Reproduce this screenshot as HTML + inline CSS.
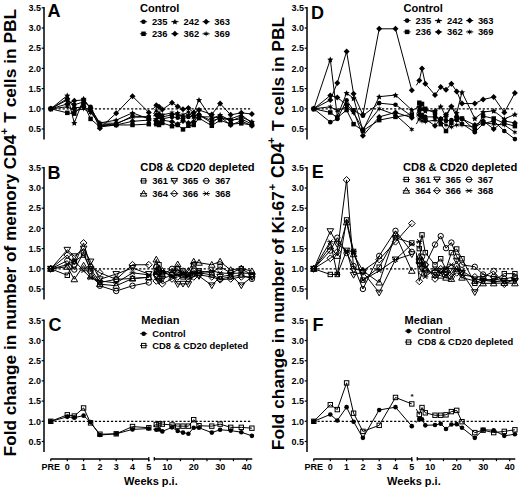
<!DOCTYPE html>
<html><head><meta charset="utf-8"><style>
html,body{margin:0;padding:0;background:#fff;}
svg{display:block;}
text{font-family:"Liberation Sans",sans-serif;font-weight:bold;}
</style></head><body>
<svg width="520" height="489" viewBox="0 0 520 489" shape-rendering="geometricPrecision">
<rect width="520" height="489" fill="#fff"/>
<line x1="44.0" y1="7.10" x2="44.0" y2="139.40" stroke="#000" stroke-width="1.5"/>
<line x1="41.70" y1="129.00" x2="44.0" y2="129.00" stroke="#000" stroke-width="1.2"/>
<text x="41.00" y="132.20" text-anchor="end" font-size="9" >0.5</text>
<line x1="41.70" y1="108.80" x2="44.0" y2="108.80" stroke="#000" stroke-width="1.2"/>
<text x="41.00" y="112.00" text-anchor="end" font-size="9" >1.0</text>
<line x1="41.70" y1="88.60" x2="44.0" y2="88.60" stroke="#000" stroke-width="1.2"/>
<text x="41.00" y="91.80" text-anchor="end" font-size="9" >1.5</text>
<line x1="41.70" y1="68.40" x2="44.0" y2="68.40" stroke="#000" stroke-width="1.2"/>
<text x="41.00" y="71.60" text-anchor="end" font-size="9" >2.0</text>
<line x1="41.70" y1="48.20" x2="44.0" y2="48.20" stroke="#000" stroke-width="1.2"/>
<text x="41.00" y="51.40" text-anchor="end" font-size="9" >2.5</text>
<line x1="41.70" y1="28.00" x2="44.0" y2="28.00" stroke="#000" stroke-width="1.2"/>
<text x="41.00" y="31.20" text-anchor="end" font-size="9" >3.0</text>
<line x1="41.70" y1="7.80" x2="44.0" y2="7.80" stroke="#000" stroke-width="1.2"/>
<text x="41.00" y="11.00" text-anchor="end" font-size="9" >3.5</text>
<line x1="50.50" y1="108.80" x2="250.60" y2="108.80" stroke="#000" stroke-width="1.3" stroke-dasharray="2.2,1.83"/>
<path d="M50.80 108.80L67.30 99.91L74.29 104.76L83.60 101.93L90.59 106.78L99.90 124.96L116.20 124.15L132.50 116.07L148.80 116.88" fill="none" stroke="#000" stroke-width="1.0"/>
<path d="M153.30 115.87L156.30 114.86L159.00 116.88L162.30 118.90L172.00 116.88L177.70 117.69L183.00 118.90L188.40 116.88L193.70 116.07L199.00 114.86L211.80 120.92L220.10 118.09L230.70 120.11L241.30 118.90L251.90 124.15" fill="none" stroke="#000" stroke-width="1.0"/>
<circle cx="50.80" cy="108.80" r="2.30" fill="#000"/>
<circle cx="67.30" cy="99.91" r="2.30" fill="#000"/>
<circle cx="74.29" cy="104.76" r="2.30" fill="#000"/>
<circle cx="83.60" cy="101.93" r="2.30" fill="#000"/>
<circle cx="90.59" cy="106.78" r="2.30" fill="#000"/>
<circle cx="99.90" cy="124.96" r="2.30" fill="#000"/>
<circle cx="116.20" cy="124.15" r="2.30" fill="#000"/>
<circle cx="132.50" cy="116.07" r="2.30" fill="#000"/>
<circle cx="148.80" cy="116.88" r="2.30" fill="#000"/>
<circle cx="156.30" cy="114.86" r="2.30" fill="#000"/>
<circle cx="159.00" cy="116.88" r="2.30" fill="#000"/>
<circle cx="162.30" cy="118.90" r="2.30" fill="#000"/>
<circle cx="172.00" cy="116.88" r="2.30" fill="#000"/>
<circle cx="177.70" cy="117.69" r="2.30" fill="#000"/>
<circle cx="183.00" cy="118.90" r="2.30" fill="#000"/>
<circle cx="188.40" cy="116.88" r="2.30" fill="#000"/>
<circle cx="193.70" cy="116.07" r="2.30" fill="#000"/>
<circle cx="199.00" cy="114.86" r="2.30" fill="#000"/>
<circle cx="211.80" cy="120.92" r="2.30" fill="#000"/>
<circle cx="220.10" cy="118.09" r="2.30" fill="#000"/>
<circle cx="230.70" cy="120.11" r="2.30" fill="#000"/>
<circle cx="241.30" cy="118.90" r="2.30" fill="#000"/>
<circle cx="251.90" cy="124.15" r="2.30" fill="#000"/>
<path d="M50.80 108.80L67.30 112.84L74.29 113.65L83.60 103.95L90.59 118.90L99.90 126.98L116.20 124.96L132.50 124.96L148.80 124.15" fill="none" stroke="#000" stroke-width="1.0"/>
<path d="M153.30 124.15L156.30 124.15L159.00 124.96L162.30 122.94L172.00 126.17L177.70 124.96L183.00 129.40L188.40 125.77L193.70 124.96L199.00 118.09L211.80 125.77L220.10 120.11L230.70 124.15L241.30 123.34L251.90 124.96" fill="none" stroke="#000" stroke-width="1.0"/>
<rect x="48.55" y="106.55" width="4.50" height="4.50" fill="#000"/>
<rect x="65.05" y="110.59" width="4.50" height="4.50" fill="#000"/>
<rect x="72.04" y="111.40" width="4.50" height="4.50" fill="#000"/>
<rect x="81.35" y="101.70" width="4.50" height="4.50" fill="#000"/>
<rect x="88.34" y="116.65" width="4.50" height="4.50" fill="#000"/>
<rect x="97.65" y="124.73" width="4.50" height="4.50" fill="#000"/>
<rect x="113.95" y="122.71" width="4.50" height="4.50" fill="#000"/>
<rect x="130.25" y="122.71" width="4.50" height="4.50" fill="#000"/>
<rect x="146.55" y="121.90" width="4.50" height="4.50" fill="#000"/>
<rect x="154.05" y="121.90" width="4.50" height="4.50" fill="#000"/>
<rect x="156.75" y="122.71" width="4.50" height="4.50" fill="#000"/>
<rect x="160.05" y="120.69" width="4.50" height="4.50" fill="#000"/>
<rect x="169.75" y="123.92" width="4.50" height="4.50" fill="#000"/>
<rect x="175.45" y="122.71" width="4.50" height="4.50" fill="#000"/>
<rect x="180.75" y="127.15" width="4.50" height="4.50" fill="#000"/>
<rect x="186.15" y="123.52" width="4.50" height="4.50" fill="#000"/>
<rect x="191.45" y="122.71" width="4.50" height="4.50" fill="#000"/>
<rect x="196.75" y="115.84" width="4.50" height="4.50" fill="#000"/>
<rect x="209.55" y="123.52" width="4.50" height="4.50" fill="#000"/>
<rect x="217.85" y="117.86" width="4.50" height="4.50" fill="#000"/>
<rect x="228.45" y="121.90" width="4.50" height="4.50" fill="#000"/>
<rect x="239.05" y="121.09" width="4.50" height="4.50" fill="#000"/>
<rect x="249.65" y="122.71" width="4.50" height="4.50" fill="#000"/>
<path d="M50.80 108.80L67.30 95.47L74.29 122.94L83.60 98.70L90.59 108.80L99.90 122.94L116.20 120.11L132.50 112.84L148.80 118.90" fill="none" stroke="#000" stroke-width="1.0"/>
<path d="M153.30 118.90L156.30 118.90L159.00 114.86L162.30 116.88L172.00 114.86L177.70 112.84L183.00 116.88L188.40 114.86L193.70 112.84L199.00 99.91L211.80 118.90L220.10 114.86L230.70 120.92L241.30 116.88L251.90 121.73" fill="none" stroke="#000" stroke-width="1.0"/>
<polygon points="50.80,105.90 51.71,107.85 53.84,108.11 52.27,109.58 52.68,111.69 50.80,110.65 48.92,111.69 49.33,109.58 47.76,108.11 49.89,107.85" fill="#000"/>
<polygon points="67.30,92.57 68.21,94.51 70.34,94.78 68.77,96.25 69.18,98.36 67.30,97.32 65.42,98.36 65.83,96.25 64.26,94.78 66.39,94.51" fill="#000"/>
<polygon points="74.29,120.04 75.20,121.99 77.33,122.25 75.76,123.72 76.17,125.83 74.29,124.79 72.40,125.83 72.81,123.72 71.24,122.25 73.37,121.99" fill="#000"/>
<polygon points="83.60,95.80 84.51,97.75 86.64,98.01 85.07,99.48 85.48,101.59 83.60,100.55 81.72,101.59 82.13,99.48 80.56,98.01 82.69,97.75" fill="#000"/>
<polygon points="90.59,105.90 91.50,107.85 93.63,108.11 92.06,109.58 92.47,111.69 90.59,110.65 88.70,111.69 89.11,109.58 87.54,108.11 89.67,107.85" fill="#000"/>
<polygon points="99.90,120.04 100.81,121.99 102.94,122.25 101.37,123.72 101.78,125.83 99.90,124.79 98.02,125.83 98.43,123.72 96.86,122.25 98.99,121.99" fill="#000"/>
<polygon points="116.20,117.21 117.11,119.16 119.24,119.42 117.67,120.89 118.08,123.00 116.20,121.96 114.32,123.00 114.73,120.89 113.16,119.42 115.29,119.16" fill="#000"/>
<polygon points="132.50,109.94 133.41,111.89 135.54,112.15 133.97,113.62 134.38,115.73 132.50,114.69 130.62,115.73 131.03,113.62 129.46,112.15 131.59,111.89" fill="#000"/>
<polygon points="148.80,116.00 149.71,117.95 151.84,118.21 150.27,119.68 150.68,121.79 148.80,120.75 146.92,121.79 147.33,119.68 145.76,118.21 147.89,117.95" fill="#000"/>
<polygon points="156.30,116.00 157.21,117.95 159.34,118.21 157.77,119.68 158.18,121.79 156.30,120.75 154.42,121.79 154.83,119.68 153.26,118.21 155.39,117.95" fill="#000"/>
<polygon points="159.00,111.96 159.91,113.91 162.04,114.17 160.47,115.64 160.88,117.75 159.00,116.71 157.12,117.75 157.53,115.64 155.96,114.17 158.09,113.91" fill="#000"/>
<polygon points="162.30,113.98 163.21,115.93 165.34,116.19 163.77,117.66 164.18,119.77 162.30,118.73 160.42,119.77 160.83,117.66 159.26,116.19 161.39,115.93" fill="#000"/>
<polygon points="172.00,111.96 172.91,113.91 175.04,114.17 173.47,115.64 173.88,117.75 172.00,116.71 170.12,117.75 170.53,115.64 168.96,114.17 171.09,113.91" fill="#000"/>
<polygon points="177.70,109.94 178.61,111.89 180.74,112.15 179.17,113.62 179.58,115.73 177.70,114.69 175.82,115.73 176.23,113.62 174.66,112.15 176.79,111.89" fill="#000"/>
<polygon points="183.00,113.98 183.91,115.93 186.04,116.19 184.47,117.66 184.88,119.77 183.00,118.73 181.12,119.77 181.53,117.66 179.96,116.19 182.09,115.93" fill="#000"/>
<polygon points="188.40,111.96 189.31,113.91 191.44,114.17 189.87,115.64 190.28,117.75 188.40,116.71 186.52,117.75 186.93,115.64 185.36,114.17 187.49,113.91" fill="#000"/>
<polygon points="193.70,109.94 194.61,111.89 196.74,112.15 195.17,113.62 195.58,115.73 193.70,114.69 191.82,115.73 192.23,113.62 190.66,112.15 192.79,111.89" fill="#000"/>
<polygon points="199.00,97.01 199.91,98.96 202.04,99.22 200.47,100.69 200.88,102.80 199.00,101.76 197.12,102.80 197.53,100.69 195.96,99.22 198.09,98.96" fill="#000"/>
<polygon points="211.80,116.00 212.71,117.95 214.84,118.21 213.27,119.68 213.68,121.79 211.80,120.75 209.92,121.79 210.33,119.68 208.76,118.21 210.89,117.95" fill="#000"/>
<polygon points="220.10,111.96 221.01,113.91 223.14,114.17 221.57,115.64 221.98,117.75 220.10,116.71 218.22,117.75 218.63,115.64 217.06,114.17 219.19,113.91" fill="#000"/>
<polygon points="230.70,118.02 231.61,119.97 233.74,120.23 232.17,121.70 232.58,123.81 230.70,122.77 228.82,123.81 229.23,121.70 227.66,120.23 229.79,119.97" fill="#000"/>
<polygon points="241.30,113.98 242.21,115.93 244.34,116.19 242.77,117.66 243.18,119.77 241.30,118.73 239.42,119.77 239.83,117.66 238.26,116.19 240.39,115.93" fill="#000"/>
<polygon points="251.90,118.83 252.81,120.77 254.94,121.04 253.37,122.51 253.78,124.62 251.90,123.58 250.02,124.62 250.43,122.51 248.86,121.04 250.99,120.77" fill="#000"/>
<path d="M50.80 108.80L67.30 103.95L74.29 100.72L83.60 99.91L90.59 107.99L99.90 128.19L116.20 113.24L132.50 96.28L148.80 112.44" fill="none" stroke="#000" stroke-width="1.0"/>
<path d="M153.30 108.80L156.30 105.16L159.00 106.78L162.30 109.61L172.00 102.74L177.70 106.38L183.00 109.20L188.40 107.99L193.70 112.84L199.00 110.01L211.80 114.46L220.10 103.55L230.70 114.86L241.30 112.84L251.90 114.05" fill="none" stroke="#000" stroke-width="1.0"/>
<path d="M50.80 105.80L53.80 108.80L50.80 111.80L47.80 108.80Z" fill="#000"/>
<path d="M67.30 100.95L70.30 103.95L67.30 106.95L64.30 103.95Z" fill="#000"/>
<path d="M74.29 97.72L77.29 100.72L74.29 103.72L71.29 100.72Z" fill="#000"/>
<path d="M83.60 96.91L86.60 99.91L83.60 102.91L80.60 99.91Z" fill="#000"/>
<path d="M90.59 104.99L93.59 107.99L90.59 110.99L87.59 107.99Z" fill="#000"/>
<path d="M99.90 125.19L102.90 128.19L99.90 131.19L96.90 128.19Z" fill="#000"/>
<path d="M116.20 110.24L119.20 113.24L116.20 116.24L113.20 113.24Z" fill="#000"/>
<path d="M132.50 93.28L135.50 96.28L132.50 99.28L129.50 96.28Z" fill="#000"/>
<path d="M148.80 109.44L151.80 112.44L148.80 115.44L145.80 112.44Z" fill="#000"/>
<path d="M156.30 102.16L159.30 105.16L156.30 108.16L153.30 105.16Z" fill="#000"/>
<path d="M159.00 103.78L162.00 106.78L159.00 109.78L156.00 106.78Z" fill="#000"/>
<path d="M162.30 106.61L165.30 109.61L162.30 112.61L159.30 109.61Z" fill="#000"/>
<path d="M172.00 99.74L175.00 102.74L172.00 105.74L169.00 102.74Z" fill="#000"/>
<path d="M177.70 103.38L180.70 106.38L177.70 109.38L174.70 106.38Z" fill="#000"/>
<path d="M183.00 106.20L186.00 109.20L183.00 112.20L180.00 109.20Z" fill="#000"/>
<path d="M188.40 104.99L191.40 107.99L188.40 110.99L185.40 107.99Z" fill="#000"/>
<path d="M193.70 109.84L196.70 112.84L193.70 115.84L190.70 112.84Z" fill="#000"/>
<path d="M199.00 107.01L202.00 110.01L199.00 113.01L196.00 110.01Z" fill="#000"/>
<path d="M211.80 111.46L214.80 114.46L211.80 117.46L208.80 114.46Z" fill="#000"/>
<path d="M220.10 100.55L223.10 103.55L220.10 106.55L217.10 103.55Z" fill="#000"/>
<path d="M230.70 111.86L233.70 114.86L230.70 117.86L227.70 114.86Z" fill="#000"/>
<path d="M241.30 109.84L244.30 112.84L241.30 115.84L238.30 112.84Z" fill="#000"/>
<path d="M251.90 111.05L254.90 114.05L251.90 117.05L248.90 114.05Z" fill="#000"/>
<path d="M50.80 108.80L67.30 98.70L74.29 107.99L83.60 106.78L90.59 110.82L99.90 125.77L116.20 124.96L132.50 121.32L148.80 120.11" fill="none" stroke="#000" stroke-width="1.0"/>
<path d="M153.30 120.52L156.30 120.92L159.00 122.94L162.30 120.11L172.00 121.73L177.70 124.15L183.00 120.92L188.40 122.94L193.70 121.73L199.00 114.86L211.80 122.94L220.10 116.88L230.70 124.96L241.30 120.92L251.90 125.77" fill="none" stroke="#000" stroke-width="1.0"/>
<path d="M50.80 105.80L53.80 108.80L50.80 111.80L47.80 108.80Z" fill="#000"/>
<path d="M67.30 95.70L70.30 98.70L67.30 101.70L64.30 98.70Z" fill="#000"/>
<path d="M74.29 104.99L77.29 107.99L74.29 110.99L71.29 107.99Z" fill="#000"/>
<path d="M83.60 103.78L86.60 106.78L83.60 109.78L80.60 106.78Z" fill="#000"/>
<path d="M90.59 107.82L93.59 110.82L90.59 113.82L87.59 110.82Z" fill="#000"/>
<path d="M99.90 122.77L102.90 125.77L99.90 128.77L96.90 125.77Z" fill="#000"/>
<path d="M116.20 121.96L119.20 124.96L116.20 127.96L113.20 124.96Z" fill="#000"/>
<path d="M132.50 118.32L135.50 121.32L132.50 124.32L129.50 121.32Z" fill="#000"/>
<path d="M148.80 117.11L151.80 120.11L148.80 123.11L145.80 120.11Z" fill="#000"/>
<path d="M156.30 117.92L159.30 120.92L156.30 123.92L153.30 120.92Z" fill="#000"/>
<path d="M159.00 119.94L162.00 122.94L159.00 125.94L156.00 122.94Z" fill="#000"/>
<path d="M162.30 117.11L165.30 120.11L162.30 123.11L159.30 120.11Z" fill="#000"/>
<path d="M172.00 118.73L175.00 121.73L172.00 124.73L169.00 121.73Z" fill="#000"/>
<path d="M177.70 121.15L180.70 124.15L177.70 127.15L174.70 124.15Z" fill="#000"/>
<path d="M183.00 117.92L186.00 120.92L183.00 123.92L180.00 120.92Z" fill="#000"/>
<path d="M188.40 119.94L191.40 122.94L188.40 125.94L185.40 122.94Z" fill="#000"/>
<path d="M193.70 118.73L196.70 121.73L193.70 124.73L190.70 121.73Z" fill="#000"/>
<path d="M199.00 111.86L202.00 114.86L199.00 117.86L196.00 114.86Z" fill="#000"/>
<path d="M211.80 119.94L214.80 122.94L211.80 125.94L208.80 122.94Z" fill="#000"/>
<path d="M220.10 113.88L223.10 116.88L220.10 119.88L217.10 116.88Z" fill="#000"/>
<path d="M230.70 121.96L233.70 124.96L230.70 127.96L227.70 124.96Z" fill="#000"/>
<path d="M241.30 117.92L244.30 120.92L241.30 123.92L238.30 120.92Z" fill="#000"/>
<path d="M251.90 122.77L254.90 125.77L251.90 128.77L248.90 125.77Z" fill="#000"/>
<path d="M50.80 108.80L67.30 106.78L74.29 110.82L83.60 108.80L90.59 112.84L99.90 122.94L116.20 123.34L132.50 117.28L148.80 116.88" fill="none" stroke="#000" stroke-width="1.0"/>
<path d="M153.30 113.85L156.30 110.82L159.00 112.84L162.30 114.86L172.00 112.84L177.70 116.07L183.00 114.86L188.40 112.03L193.70 117.69L199.00 116.88L211.80 116.88L220.10 117.69L230.70 118.90L241.30 114.86L251.90 122.94" fill="none" stroke="#000" stroke-width="1.0"/>
<polygon points="50.80,105.80 51.40,107.76 53.40,107.30 52.00,108.80 53.40,110.30 51.40,109.84 50.80,111.80 50.20,109.84 48.20,110.30 49.60,108.80 48.20,107.30 50.20,107.76" fill="#000"/>
<polygon points="67.30,103.78 67.90,105.74 69.90,105.28 68.50,106.78 69.90,108.28 67.90,107.82 67.30,109.78 66.70,107.82 64.70,108.28 66.10,106.78 64.70,105.28 66.70,105.74" fill="#000"/>
<polygon points="74.29,107.82 74.89,109.78 76.88,109.32 75.49,110.82 76.88,112.32 74.89,111.86 74.29,113.82 73.69,111.86 71.69,112.32 73.09,110.82 71.69,109.32 73.69,109.78" fill="#000"/>
<polygon points="83.60,105.80 84.20,107.76 86.20,107.30 84.80,108.80 86.20,110.30 84.20,109.84 83.60,111.80 83.00,109.84 81.00,110.30 82.40,108.80 81.00,107.30 83.00,107.76" fill="#000"/>
<polygon points="90.59,109.84 91.19,111.80 93.18,111.34 91.79,112.84 93.18,114.34 91.19,113.88 90.59,115.84 89.99,113.88 87.99,114.34 89.39,112.84 87.99,111.34 89.99,111.80" fill="#000"/>
<polygon points="99.90,119.94 100.50,121.90 102.50,121.44 101.10,122.94 102.50,124.44 100.50,123.98 99.90,125.94 99.30,123.98 97.30,124.44 98.70,122.94 97.30,121.44 99.30,121.90" fill="#000"/>
<polygon points="116.20,120.34 116.80,122.30 118.80,121.84 117.40,123.34 118.80,124.84 116.80,124.38 116.20,126.34 115.60,124.38 113.60,124.84 115.00,123.34 113.60,121.84 115.60,122.30" fill="#000"/>
<polygon points="132.50,114.28 133.10,116.24 135.10,115.78 133.70,117.28 135.10,118.78 133.10,118.32 132.50,120.28 131.90,118.32 129.90,118.78 131.30,117.28 129.90,115.78 131.90,116.24" fill="#000"/>
<polygon points="148.80,113.88 149.40,115.84 151.40,115.38 150.00,116.88 151.40,118.38 149.40,117.92 148.80,119.88 148.20,117.92 146.20,118.38 147.60,116.88 146.20,115.38 148.20,115.84" fill="#000"/>
<polygon points="156.30,107.82 156.90,109.78 158.90,109.32 157.50,110.82 158.90,112.32 156.90,111.86 156.30,113.82 155.70,111.86 153.70,112.32 155.10,110.82 153.70,109.32 155.70,109.78" fill="#000"/>
<polygon points="159.00,109.84 159.60,111.80 161.60,111.34 160.20,112.84 161.60,114.34 159.60,113.88 159.00,115.84 158.40,113.88 156.40,114.34 157.80,112.84 156.40,111.34 158.40,111.80" fill="#000"/>
<polygon points="162.30,111.86 162.90,113.82 164.90,113.36 163.50,114.86 164.90,116.36 162.90,115.90 162.30,117.86 161.70,115.90 159.70,116.36 161.10,114.86 159.70,113.36 161.70,113.82" fill="#000"/>
<polygon points="172.00,109.84 172.60,111.80 174.60,111.34 173.20,112.84 174.60,114.34 172.60,113.88 172.00,115.84 171.40,113.88 169.40,114.34 170.80,112.84 169.40,111.34 171.40,111.80" fill="#000"/>
<polygon points="177.70,113.07 178.30,115.03 180.30,114.57 178.90,116.07 180.30,117.57 178.30,117.11 177.70,119.07 177.10,117.11 175.10,117.57 176.50,116.07 175.10,114.57 177.10,115.03" fill="#000"/>
<polygon points="183.00,111.86 183.60,113.82 185.60,113.36 184.20,114.86 185.60,116.36 183.60,115.90 183.00,117.86 182.40,115.90 180.40,116.36 181.80,114.86 180.40,113.36 182.40,113.82" fill="#000"/>
<polygon points="188.40,109.03 189.00,110.99 191.00,110.53 189.60,112.03 191.00,113.53 189.00,113.07 188.40,115.03 187.80,113.07 185.80,113.53 187.20,112.03 185.80,110.53 187.80,110.99" fill="#000"/>
<polygon points="193.70,114.69 194.30,116.65 196.30,116.19 194.90,117.69 196.30,119.19 194.30,118.73 193.70,120.69 193.10,118.73 191.10,119.19 192.50,117.69 191.10,116.19 193.10,116.65" fill="#000"/>
<polygon points="199.00,113.88 199.60,115.84 201.60,115.38 200.20,116.88 201.60,118.38 199.60,117.92 199.00,119.88 198.40,117.92 196.40,118.38 197.80,116.88 196.40,115.38 198.40,115.84" fill="#000"/>
<polygon points="211.80,113.88 212.40,115.84 214.40,115.38 213.00,116.88 214.40,118.38 212.40,117.92 211.80,119.88 211.20,117.92 209.20,118.38 210.60,116.88 209.20,115.38 211.20,115.84" fill="#000"/>
<polygon points="220.10,114.69 220.70,116.65 222.70,116.19 221.30,117.69 222.70,119.19 220.70,118.73 220.10,120.69 219.50,118.73 217.50,119.19 218.90,117.69 217.50,116.19 219.50,116.65" fill="#000"/>
<polygon points="230.70,115.90 231.30,117.86 233.30,117.40 231.90,118.90 233.30,120.40 231.30,119.94 230.70,121.90 230.10,119.94 228.10,120.40 229.50,118.90 228.10,117.40 230.10,117.86" fill="#000"/>
<polygon points="241.30,111.86 241.90,113.82 243.90,113.36 242.50,114.86 243.90,116.36 241.90,115.90 241.30,117.86 240.70,115.90 238.70,116.36 240.10,114.86 238.70,113.36 240.70,113.82" fill="#000"/>
<polygon points="251.90,119.94 252.50,121.90 254.50,121.44 253.10,122.94 254.50,124.44 252.50,123.98 251.90,125.94 251.30,123.98 249.30,124.44 250.70,122.94 249.30,121.44 251.30,121.90" fill="#000"/>
<line x1="44.0" y1="167.10" x2="44.0" y2="299.40" stroke="#000" stroke-width="1.5"/>
<line x1="41.70" y1="289.00" x2="44.0" y2="289.00" stroke="#000" stroke-width="1.2"/>
<text x="41.00" y="292.20" text-anchor="end" font-size="9" >0.5</text>
<line x1="41.70" y1="268.80" x2="44.0" y2="268.80" stroke="#000" stroke-width="1.2"/>
<text x="41.00" y="272.00" text-anchor="end" font-size="9" >1.0</text>
<line x1="41.70" y1="248.60" x2="44.0" y2="248.60" stroke="#000" stroke-width="1.2"/>
<text x="41.00" y="251.80" text-anchor="end" font-size="9" >1.5</text>
<line x1="41.70" y1="228.40" x2="44.0" y2="228.40" stroke="#000" stroke-width="1.2"/>
<text x="41.00" y="231.60" text-anchor="end" font-size="9" >2.0</text>
<line x1="41.70" y1="208.20" x2="44.0" y2="208.20" stroke="#000" stroke-width="1.2"/>
<text x="41.00" y="211.40" text-anchor="end" font-size="9" >2.5</text>
<line x1="41.70" y1="188.00" x2="44.0" y2="188.00" stroke="#000" stroke-width="1.2"/>
<text x="41.00" y="191.20" text-anchor="end" font-size="9" >3.0</text>
<line x1="41.70" y1="167.80" x2="44.0" y2="167.80" stroke="#000" stroke-width="1.2"/>
<text x="41.00" y="171.00" text-anchor="end" font-size="9" >3.5</text>
<line x1="50.50" y1="268.80" x2="250.60" y2="268.80" stroke="#000" stroke-width="1.3" stroke-dasharray="2.2,1.83"/>
<path d="M50.80 268.80L67.30 275.26L74.29 261.53L83.60 255.06L90.59 268.80L99.90 282.54L116.20 279.30L132.50 278.50L148.80 277.28" fill="none" stroke="#000" stroke-width="1.0"/>
<path d="M153.30 274.05L156.30 270.82L159.00 264.76L162.30 272.84L172.00 274.86L177.70 268.80L183.00 276.88L188.40 274.86L193.70 264.76L199.00 270.82L211.80 272.84L220.10 266.78L230.70 272.84L241.30 268.80L251.90 274.86" fill="none" stroke="#000" stroke-width="1.0"/>
<rect x="48.60" y="266.60" width="4.40" height="4.40" fill="none" stroke="#000" stroke-width="1.0"/>
<rect x="65.10" y="273.06" width="4.40" height="4.40" fill="none" stroke="#000" stroke-width="1.0"/>
<rect x="72.09" y="259.33" width="4.40" height="4.40" fill="none" stroke="#000" stroke-width="1.0"/>
<rect x="81.40" y="252.86" width="4.40" height="4.40" fill="none" stroke="#000" stroke-width="1.0"/>
<rect x="88.39" y="266.60" width="4.40" height="4.40" fill="none" stroke="#000" stroke-width="1.0"/>
<rect x="97.70" y="280.34" width="4.40" height="4.40" fill="none" stroke="#000" stroke-width="1.0"/>
<rect x="114.00" y="277.10" width="4.40" height="4.40" fill="none" stroke="#000" stroke-width="1.0"/>
<rect x="130.30" y="276.30" width="4.40" height="4.40" fill="none" stroke="#000" stroke-width="1.0"/>
<rect x="146.60" y="275.08" width="4.40" height="4.40" fill="none" stroke="#000" stroke-width="1.0"/>
<rect x="154.10" y="268.62" width="4.40" height="4.40" fill="none" stroke="#000" stroke-width="1.0"/>
<rect x="156.80" y="262.56" width="4.40" height="4.40" fill="none" stroke="#000" stroke-width="1.0"/>
<rect x="160.10" y="270.64" width="4.40" height="4.40" fill="none" stroke="#000" stroke-width="1.0"/>
<rect x="169.80" y="272.66" width="4.40" height="4.40" fill="none" stroke="#000" stroke-width="1.0"/>
<rect x="175.50" y="266.60" width="4.40" height="4.40" fill="none" stroke="#000" stroke-width="1.0"/>
<rect x="180.80" y="274.68" width="4.40" height="4.40" fill="none" stroke="#000" stroke-width="1.0"/>
<rect x="186.20" y="272.66" width="4.40" height="4.40" fill="none" stroke="#000" stroke-width="1.0"/>
<rect x="191.50" y="262.56" width="4.40" height="4.40" fill="none" stroke="#000" stroke-width="1.0"/>
<rect x="196.80" y="268.62" width="4.40" height="4.40" fill="none" stroke="#000" stroke-width="1.0"/>
<rect x="209.60" y="270.64" width="4.40" height="4.40" fill="none" stroke="#000" stroke-width="1.0"/>
<rect x="217.90" y="264.58" width="4.40" height="4.40" fill="none" stroke="#000" stroke-width="1.0"/>
<rect x="228.50" y="270.64" width="4.40" height="4.40" fill="none" stroke="#000" stroke-width="1.0"/>
<rect x="239.10" y="266.60" width="4.40" height="4.40" fill="none" stroke="#000" stroke-width="1.0"/>
<rect x="249.70" y="272.66" width="4.40" height="4.40" fill="none" stroke="#000" stroke-width="1.0"/>
<path d="M50.80 268.80L67.30 249.81L74.29 256.28L83.60 248.60L90.59 261.53L99.90 279.30L116.20 274.05L132.50 267.99L148.80 274.05" fill="none" stroke="#000" stroke-width="1.0"/>
<path d="M153.30 275.47L156.30 276.88L159.00 280.92L162.30 278.90L172.00 274.86L177.70 284.15L183.00 283.75L188.40 284.15L193.70 273.65L199.00 276.07L211.80 285.36L220.10 276.88L230.70 274.86L241.30 285.36L251.90 276.88" fill="none" stroke="#000" stroke-width="1.0"/>
<path d="M50.80 272.10L54.10 266.32L47.50 266.32Z" fill="none" stroke="#000" stroke-width="1.0"/>
<path d="M67.30 253.11L70.60 247.34L64.00 247.34Z" fill="none" stroke="#000" stroke-width="1.0"/>
<path d="M74.29 259.58L77.59 253.80L70.99 253.80Z" fill="none" stroke="#000" stroke-width="1.0"/>
<path d="M83.60 251.90L86.90 246.13L80.30 246.13Z" fill="none" stroke="#000" stroke-width="1.0"/>
<path d="M90.59 264.83L93.89 259.05L87.29 259.05Z" fill="none" stroke="#000" stroke-width="1.0"/>
<path d="M99.90 282.60L103.20 276.83L96.60 276.83Z" fill="none" stroke="#000" stroke-width="1.0"/>
<path d="M116.20 277.35L119.50 271.58L112.90 271.58Z" fill="none" stroke="#000" stroke-width="1.0"/>
<path d="M132.50 271.29L135.80 265.52L129.20 265.52Z" fill="none" stroke="#000" stroke-width="1.0"/>
<path d="M148.80 277.35L152.10 271.58L145.50 271.58Z" fill="none" stroke="#000" stroke-width="1.0"/>
<path d="M156.30 280.18L159.60 274.40L153.00 274.40Z" fill="none" stroke="#000" stroke-width="1.0"/>
<path d="M159.00 284.22L162.30 278.44L155.70 278.44Z" fill="none" stroke="#000" stroke-width="1.0"/>
<path d="M162.30 282.20L165.60 276.43L159.00 276.43Z" fill="none" stroke="#000" stroke-width="1.0"/>
<path d="M172.00 278.16L175.30 272.38L168.70 272.38Z" fill="none" stroke="#000" stroke-width="1.0"/>
<path d="M177.70 287.45L181.00 281.68L174.40 281.68Z" fill="none" stroke="#000" stroke-width="1.0"/>
<path d="M183.00 287.05L186.30 281.27L179.70 281.27Z" fill="none" stroke="#000" stroke-width="1.0"/>
<path d="M188.40 287.45L191.70 281.68L185.10 281.68Z" fill="none" stroke="#000" stroke-width="1.0"/>
<path d="M193.70 276.95L197.00 271.17L190.40 271.17Z" fill="none" stroke="#000" stroke-width="1.0"/>
<path d="M199.00 279.37L202.30 273.60L195.70 273.60Z" fill="none" stroke="#000" stroke-width="1.0"/>
<path d="M211.80 288.66L215.10 282.89L208.50 282.89Z" fill="none" stroke="#000" stroke-width="1.0"/>
<path d="M220.10 280.18L223.40 274.40L216.80 274.40Z" fill="none" stroke="#000" stroke-width="1.0"/>
<path d="M230.70 278.16L234.00 272.38L227.40 272.38Z" fill="none" stroke="#000" stroke-width="1.0"/>
<path d="M241.30 288.66L244.60 282.89L238.00 282.89Z" fill="none" stroke="#000" stroke-width="1.0"/>
<path d="M251.90 280.18L255.20 274.40L248.60 274.40Z" fill="none" stroke="#000" stroke-width="1.0"/>
<path d="M50.80 268.80L67.30 260.72L74.29 269.61L83.60 252.64L90.59 270.82L99.90 285.77L116.20 291.02L132.50 285.77L148.80 282.54" fill="none" stroke="#000" stroke-width="1.0"/>
<path d="M153.30 274.66L156.30 266.78L159.00 272.84L162.30 274.86L172.00 268.80L177.70 272.84L183.00 270.82L188.40 276.88L193.70 270.82L199.00 272.84L211.80 274.86L220.10 278.90L230.70 276.88L241.30 274.86L251.90 278.90" fill="none" stroke="#000" stroke-width="1.0"/>
<circle cx="50.80" cy="268.80" r="2.70" fill="none" stroke="#000" stroke-width="1.0"/>
<circle cx="67.30" cy="260.72" r="2.70" fill="none" stroke="#000" stroke-width="1.0"/>
<circle cx="74.29" cy="269.61" r="2.70" fill="none" stroke="#000" stroke-width="1.0"/>
<circle cx="83.60" cy="252.64" r="2.70" fill="none" stroke="#000" stroke-width="1.0"/>
<circle cx="90.59" cy="270.82" r="2.70" fill="none" stroke="#000" stroke-width="1.0"/>
<circle cx="99.90" cy="285.77" r="2.70" fill="none" stroke="#000" stroke-width="1.0"/>
<circle cx="116.20" cy="291.02" r="2.70" fill="none" stroke="#000" stroke-width="1.0"/>
<circle cx="132.50" cy="285.77" r="2.70" fill="none" stroke="#000" stroke-width="1.0"/>
<circle cx="148.80" cy="282.54" r="2.70" fill="none" stroke="#000" stroke-width="1.0"/>
<circle cx="156.30" cy="266.78" r="2.70" fill="none" stroke="#000" stroke-width="1.0"/>
<circle cx="159.00" cy="272.84" r="2.70" fill="none" stroke="#000" stroke-width="1.0"/>
<circle cx="162.30" cy="274.86" r="2.70" fill="none" stroke="#000" stroke-width="1.0"/>
<circle cx="172.00" cy="268.80" r="2.70" fill="none" stroke="#000" stroke-width="1.0"/>
<circle cx="177.70" cy="272.84" r="2.70" fill="none" stroke="#000" stroke-width="1.0"/>
<circle cx="183.00" cy="270.82" r="2.70" fill="none" stroke="#000" stroke-width="1.0"/>
<circle cx="188.40" cy="276.88" r="2.70" fill="none" stroke="#000" stroke-width="1.0"/>
<circle cx="193.70" cy="270.82" r="2.70" fill="none" stroke="#000" stroke-width="1.0"/>
<circle cx="199.00" cy="272.84" r="2.70" fill="none" stroke="#000" stroke-width="1.0"/>
<circle cx="211.80" cy="274.86" r="2.70" fill="none" stroke="#000" stroke-width="1.0"/>
<circle cx="220.10" cy="278.90" r="2.70" fill="none" stroke="#000" stroke-width="1.0"/>
<circle cx="230.70" cy="276.88" r="2.70" fill="none" stroke="#000" stroke-width="1.0"/>
<circle cx="241.30" cy="274.86" r="2.70" fill="none" stroke="#000" stroke-width="1.0"/>
<circle cx="251.90" cy="278.90" r="2.70" fill="none" stroke="#000" stroke-width="1.0"/>
<path d="M50.80 268.80L67.30 266.78L74.29 279.30L83.60 265.57L90.59 276.48L99.90 284.15L116.20 285.77L132.50 278.50L148.80 277.28" fill="none" stroke="#000" stroke-width="1.0"/>
<path d="M153.30 268.40L156.30 259.51L159.00 268.80L162.30 270.82L172.00 272.84L177.70 264.36L183.00 274.86L188.40 270.82L193.70 261.53L199.00 262.74L211.80 264.76L220.10 261.53L230.70 270.01L241.30 268.40L251.90 271.22" fill="none" stroke="#000" stroke-width="1.0"/>
<path d="M50.80 265.50L54.10 271.28L47.50 271.28Z" fill="none" stroke="#000" stroke-width="1.0"/>
<path d="M67.30 263.48L70.60 269.26L64.00 269.26Z" fill="none" stroke="#000" stroke-width="1.0"/>
<path d="M74.29 276.00L77.59 281.78L70.99 281.78Z" fill="none" stroke="#000" stroke-width="1.0"/>
<path d="M83.60 262.27L86.90 268.04L80.30 268.04Z" fill="none" stroke="#000" stroke-width="1.0"/>
<path d="M90.59 273.18L93.89 278.95L87.29 278.95Z" fill="none" stroke="#000" stroke-width="1.0"/>
<path d="M99.90 280.85L103.20 286.63L96.60 286.63Z" fill="none" stroke="#000" stroke-width="1.0"/>
<path d="M116.20 282.47L119.50 288.24L112.90 288.24Z" fill="none" stroke="#000" stroke-width="1.0"/>
<path d="M132.50 275.20L135.80 280.97L129.20 280.97Z" fill="none" stroke="#000" stroke-width="1.0"/>
<path d="M148.80 273.98L152.10 279.76L145.50 279.76Z" fill="none" stroke="#000" stroke-width="1.0"/>
<path d="M156.30 256.21L159.60 261.98L153.00 261.98Z" fill="none" stroke="#000" stroke-width="1.0"/>
<path d="M159.00 265.50L162.30 271.28L155.70 271.28Z" fill="none" stroke="#000" stroke-width="1.0"/>
<path d="M162.30 267.52L165.60 273.30L159.00 273.30Z" fill="none" stroke="#000" stroke-width="1.0"/>
<path d="M172.00 269.54L175.30 275.32L168.70 275.32Z" fill="none" stroke="#000" stroke-width="1.0"/>
<path d="M177.70 261.06L181.00 266.83L174.40 266.83Z" fill="none" stroke="#000" stroke-width="1.0"/>
<path d="M183.00 271.56L186.30 277.34L179.70 277.34Z" fill="none" stroke="#000" stroke-width="1.0"/>
<path d="M188.40 267.52L191.70 273.30L185.10 273.30Z" fill="none" stroke="#000" stroke-width="1.0"/>
<path d="M193.70 258.23L197.00 264.00L190.40 264.00Z" fill="none" stroke="#000" stroke-width="1.0"/>
<path d="M199.00 259.44L202.30 265.22L195.70 265.22Z" fill="none" stroke="#000" stroke-width="1.0"/>
<path d="M211.80 261.46L215.10 267.24L208.50 267.24Z" fill="none" stroke="#000" stroke-width="1.0"/>
<path d="M220.10 258.23L223.40 264.00L216.80 264.00Z" fill="none" stroke="#000" stroke-width="1.0"/>
<path d="M230.70 266.71L234.00 272.49L227.40 272.49Z" fill="none" stroke="#000" stroke-width="1.0"/>
<path d="M241.30 265.10L244.60 270.87L238.00 270.87Z" fill="none" stroke="#000" stroke-width="1.0"/>
<path d="M251.90 267.92L255.20 273.70L248.60 273.70Z" fill="none" stroke="#000" stroke-width="1.0"/>
<path d="M50.80 268.80L67.30 255.06L74.29 264.76L83.60 242.94L90.59 266.78L99.90 272.84L116.20 279.30L132.50 264.76L148.80 264.76" fill="none" stroke="#000" stroke-width="1.0"/>
<path d="M153.30 272.84L156.30 280.92L159.00 278.90L162.30 283.75L172.00 278.90L177.70 276.88L183.00 272.84L188.40 278.90L193.70 276.88L199.00 274.86L211.80 276.88L220.10 279.71L230.70 278.90L241.30 276.88L251.90 276.88" fill="none" stroke="#000" stroke-width="1.0"/>
<path d="M50.80 265.40L54.20 268.80L50.80 272.20L47.40 268.80Z" fill="none" stroke="#000" stroke-width="1.0"/>
<path d="M67.30 251.66L70.70 255.06L67.30 258.46L63.90 255.06Z" fill="none" stroke="#000" stroke-width="1.0"/>
<path d="M74.29 261.36L77.69 264.76L74.29 268.16L70.89 264.76Z" fill="none" stroke="#000" stroke-width="1.0"/>
<path d="M83.60 239.54L87.00 242.94L83.60 246.34L80.20 242.94Z" fill="none" stroke="#000" stroke-width="1.0"/>
<path d="M90.59 263.38L93.99 266.78L90.59 270.18L87.19 266.78Z" fill="none" stroke="#000" stroke-width="1.0"/>
<path d="M99.90 269.44L103.30 272.84L99.90 276.24L96.50 272.84Z" fill="none" stroke="#000" stroke-width="1.0"/>
<path d="M116.20 275.90L119.60 279.30L116.20 282.70L112.80 279.30Z" fill="none" stroke="#000" stroke-width="1.0"/>
<path d="M132.50 261.36L135.90 264.76L132.50 268.16L129.10 264.76Z" fill="none" stroke="#000" stroke-width="1.0"/>
<path d="M148.80 261.36L152.20 264.76L148.80 268.16L145.40 264.76Z" fill="none" stroke="#000" stroke-width="1.0"/>
<path d="M156.30 277.52L159.70 280.92L156.30 284.32L152.90 280.92Z" fill="none" stroke="#000" stroke-width="1.0"/>
<path d="M159.00 275.50L162.40 278.90L159.00 282.30L155.60 278.90Z" fill="none" stroke="#000" stroke-width="1.0"/>
<path d="M162.30 280.35L165.70 283.75L162.30 287.15L158.90 283.75Z" fill="none" stroke="#000" stroke-width="1.0"/>
<path d="M172.00 275.50L175.40 278.90L172.00 282.30L168.60 278.90Z" fill="none" stroke="#000" stroke-width="1.0"/>
<path d="M177.70 273.48L181.10 276.88L177.70 280.28L174.30 276.88Z" fill="none" stroke="#000" stroke-width="1.0"/>
<path d="M183.00 269.44L186.40 272.84L183.00 276.24L179.60 272.84Z" fill="none" stroke="#000" stroke-width="1.0"/>
<path d="M188.40 275.50L191.80 278.90L188.40 282.30L185.00 278.90Z" fill="none" stroke="#000" stroke-width="1.0"/>
<path d="M193.70 273.48L197.10 276.88L193.70 280.28L190.30 276.88Z" fill="none" stroke="#000" stroke-width="1.0"/>
<path d="M199.00 271.46L202.40 274.86L199.00 278.26L195.60 274.86Z" fill="none" stroke="#000" stroke-width="1.0"/>
<path d="M211.80 273.48L215.20 276.88L211.80 280.28L208.40 276.88Z" fill="none" stroke="#000" stroke-width="1.0"/>
<path d="M220.10 276.31L223.50 279.71L220.10 283.11L216.70 279.71Z" fill="none" stroke="#000" stroke-width="1.0"/>
<path d="M230.70 275.50L234.10 278.90L230.70 282.30L227.30 278.90Z" fill="none" stroke="#000" stroke-width="1.0"/>
<path d="M241.30 273.48L244.70 276.88L241.30 280.28L237.90 276.88Z" fill="none" stroke="#000" stroke-width="1.0"/>
<path d="M251.90 273.48L255.30 276.88L251.90 280.28L248.50 276.88Z" fill="none" stroke="#000" stroke-width="1.0"/>
<path d="M50.80 268.80L67.30 264.76L74.29 260.72L83.60 270.82L90.59 277.69L99.90 280.92L116.20 282.94L132.50 272.84L148.80 274.86" fill="none" stroke="#000" stroke-width="1.0"/>
<path d="M153.30 273.85L156.30 272.84L159.00 274.86L162.30 270.82L172.00 276.88L177.70 274.86L183.00 273.65L188.40 276.07L193.70 272.84L199.00 272.84L211.80 270.82L220.10 272.84L230.70 273.65L241.30 272.84L251.90 273.65" fill="none" stroke="#000" stroke-width="1.0"/>
<path d="M47.80 268.80H53.80M48.60 266.60L53.00 271.00M53.00 266.60L48.60 271.00" fill="none" stroke="#000" stroke-width="1.0"/>
<path d="M64.30 264.76H70.30M65.10 262.56L69.50 266.96M69.50 262.56L65.10 266.96" fill="none" stroke="#000" stroke-width="1.0"/>
<path d="M71.29 260.72H77.29M72.09 258.52L76.49 262.92M76.49 258.52L72.09 262.92" fill="none" stroke="#000" stroke-width="1.0"/>
<path d="M80.60 270.82H86.60M81.40 268.62L85.80 273.02M85.80 268.62L81.40 273.02" fill="none" stroke="#000" stroke-width="1.0"/>
<path d="M87.59 277.69H93.59M88.39 275.49L92.79 279.89M92.79 275.49L88.39 279.89" fill="none" stroke="#000" stroke-width="1.0"/>
<path d="M96.90 280.92H102.90M97.70 278.72L102.10 283.12M102.10 278.72L97.70 283.12" fill="none" stroke="#000" stroke-width="1.0"/>
<path d="M113.20 282.94H119.20M114.00 280.74L118.40 285.14M118.40 280.74L114.00 285.14" fill="none" stroke="#000" stroke-width="1.0"/>
<path d="M129.50 272.84H135.50M130.30 270.64L134.70 275.04M134.70 270.64L130.30 275.04" fill="none" stroke="#000" stroke-width="1.0"/>
<path d="M145.80 274.86H151.80M146.60 272.66L151.00 277.06M151.00 272.66L146.60 277.06" fill="none" stroke="#000" stroke-width="1.0"/>
<path d="M153.30 272.84H159.30M154.10 270.64L158.50 275.04M158.50 270.64L154.10 275.04" fill="none" stroke="#000" stroke-width="1.0"/>
<path d="M156.00 274.86H162.00M156.80 272.66L161.20 277.06M161.20 272.66L156.80 277.06" fill="none" stroke="#000" stroke-width="1.0"/>
<path d="M159.30 270.82H165.30M160.10 268.62L164.50 273.02M164.50 268.62L160.10 273.02" fill="none" stroke="#000" stroke-width="1.0"/>
<path d="M169.00 276.88H175.00M169.80 274.68L174.20 279.08M174.20 274.68L169.80 279.08" fill="none" stroke="#000" stroke-width="1.0"/>
<path d="M174.70 274.86H180.70M175.50 272.66L179.90 277.06M179.90 272.66L175.50 277.06" fill="none" stroke="#000" stroke-width="1.0"/>
<path d="M180.00 273.65H186.00M180.80 271.45L185.20 275.85M185.20 271.45L180.80 275.85" fill="none" stroke="#000" stroke-width="1.0"/>
<path d="M185.40 276.07H191.40M186.20 273.87L190.60 278.27M190.60 273.87L186.20 278.27" fill="none" stroke="#000" stroke-width="1.0"/>
<path d="M190.70 272.84H196.70M191.50 270.64L195.90 275.04M195.90 270.64L191.50 275.04" fill="none" stroke="#000" stroke-width="1.0"/>
<path d="M196.00 272.84H202.00M196.80 270.64L201.20 275.04M201.20 270.64L196.80 275.04" fill="none" stroke="#000" stroke-width="1.0"/>
<path d="M208.80 270.82H214.80M209.60 268.62L214.00 273.02M214.00 268.62L209.60 273.02" fill="none" stroke="#000" stroke-width="1.0"/>
<path d="M217.10 272.84H223.10M217.90 270.64L222.30 275.04M222.30 270.64L217.90 275.04" fill="none" stroke="#000" stroke-width="1.0"/>
<path d="M227.70 273.65H233.70M228.50 271.45L232.90 275.85M232.90 271.45L228.50 275.85" fill="none" stroke="#000" stroke-width="1.0"/>
<path d="M238.30 272.84H244.30M239.10 270.64L243.50 275.04M243.50 270.64L239.10 275.04" fill="none" stroke="#000" stroke-width="1.0"/>
<path d="M248.90 273.65H254.90M249.70 271.45L254.10 275.85M254.10 271.45L249.70 275.85" fill="none" stroke="#000" stroke-width="1.0"/>
<line x1="44.0" y1="319.60" x2="44.0" y2="451.90" stroke="#000" stroke-width="1.5"/>
<line x1="41.70" y1="441.50" x2="44.0" y2="441.50" stroke="#000" stroke-width="1.2"/>
<text x="41.00" y="444.70" text-anchor="end" font-size="9" >0.5</text>
<line x1="41.70" y1="421.30" x2="44.0" y2="421.30" stroke="#000" stroke-width="1.2"/>
<text x="41.00" y="424.50" text-anchor="end" font-size="9" >1.0</text>
<line x1="41.70" y1="401.10" x2="44.0" y2="401.10" stroke="#000" stroke-width="1.2"/>
<text x="41.00" y="404.30" text-anchor="end" font-size="9" >1.5</text>
<line x1="41.70" y1="380.90" x2="44.0" y2="380.90" stroke="#000" stroke-width="1.2"/>
<text x="41.00" y="384.10" text-anchor="end" font-size="9" >2.0</text>
<line x1="41.70" y1="360.70" x2="44.0" y2="360.70" stroke="#000" stroke-width="1.2"/>
<text x="41.00" y="363.90" text-anchor="end" font-size="9" >2.5</text>
<line x1="41.70" y1="340.50" x2="44.0" y2="340.50" stroke="#000" stroke-width="1.2"/>
<text x="41.00" y="343.70" text-anchor="end" font-size="9" >3.0</text>
<line x1="41.70" y1="320.30" x2="44.0" y2="320.30" stroke="#000" stroke-width="1.2"/>
<text x="41.00" y="323.50" text-anchor="end" font-size="9" >3.5</text>
<line x1="50.50" y1="421.30" x2="250.60" y2="421.30" stroke="#000" stroke-width="1.3" stroke-dasharray="2.2,1.83"/>
<path d="M50.80 421.30L67.30 414.84L74.29 416.05L83.60 407.97L90.59 422.92L99.90 434.23L116.20 433.82L132.50 426.55L148.80 427.76" fill="none" stroke="#000" stroke-width="1.0"/>
<path d="M153.30 426.15L156.30 424.53L159.00 423.72L162.30 424.13L172.00 424.94L177.70 426.15L183.00 426.15L188.40 426.15L193.70 419.68L199.00 425.74L211.80 426.15L220.10 424.13L230.70 427.36L241.30 427.36L251.90 428.17" fill="none" stroke="#000" stroke-width="1.0"/>
<rect x="48.60" y="419.10" width="4.40" height="4.40" fill="none" stroke="#000" stroke-width="1.0"/>
<rect x="65.10" y="412.64" width="4.40" height="4.40" fill="none" stroke="#000" stroke-width="1.0"/>
<rect x="72.09" y="413.85" width="4.40" height="4.40" fill="none" stroke="#000" stroke-width="1.0"/>
<rect x="81.40" y="405.77" width="4.40" height="4.40" fill="none" stroke="#000" stroke-width="1.0"/>
<rect x="88.39" y="420.72" width="4.40" height="4.40" fill="none" stroke="#000" stroke-width="1.0"/>
<rect x="97.70" y="432.03" width="4.40" height="4.40" fill="none" stroke="#000" stroke-width="1.0"/>
<rect x="114.00" y="431.62" width="4.40" height="4.40" fill="none" stroke="#000" stroke-width="1.0"/>
<rect x="130.30" y="424.35" width="4.40" height="4.40" fill="none" stroke="#000" stroke-width="1.0"/>
<rect x="146.60" y="425.56" width="4.40" height="4.40" fill="none" stroke="#000" stroke-width="1.0"/>
<rect x="154.10" y="422.33" width="4.40" height="4.40" fill="none" stroke="#000" stroke-width="1.0"/>
<rect x="156.80" y="421.52" width="4.40" height="4.40" fill="none" stroke="#000" stroke-width="1.0"/>
<rect x="160.10" y="421.93" width="4.40" height="4.40" fill="none" stroke="#000" stroke-width="1.0"/>
<rect x="169.80" y="422.74" width="4.40" height="4.40" fill="none" stroke="#000" stroke-width="1.0"/>
<rect x="175.50" y="423.95" width="4.40" height="4.40" fill="none" stroke="#000" stroke-width="1.0"/>
<rect x="180.80" y="423.95" width="4.40" height="4.40" fill="none" stroke="#000" stroke-width="1.0"/>
<rect x="186.20" y="423.95" width="4.40" height="4.40" fill="none" stroke="#000" stroke-width="1.0"/>
<rect x="191.50" y="417.48" width="4.40" height="4.40" fill="none" stroke="#000" stroke-width="1.0"/>
<rect x="196.80" y="423.54" width="4.40" height="4.40" fill="none" stroke="#000" stroke-width="1.0"/>
<rect x="209.60" y="423.95" width="4.40" height="4.40" fill="none" stroke="#000" stroke-width="1.0"/>
<rect x="217.90" y="421.93" width="4.40" height="4.40" fill="none" stroke="#000" stroke-width="1.0"/>
<rect x="228.50" y="425.16" width="4.40" height="4.40" fill="none" stroke="#000" stroke-width="1.0"/>
<rect x="239.10" y="425.16" width="4.40" height="4.40" fill="none" stroke="#000" stroke-width="1.0"/>
<rect x="249.70" y="425.97" width="4.40" height="4.40" fill="none" stroke="#000" stroke-width="1.0"/>
<path d="M50.80 421.30L67.30 416.86L74.29 417.66L83.60 415.64L90.59 422.11L99.90 435.04L116.20 433.82L132.50 429.38L148.80 428.57" fill="none" stroke="#000" stroke-width="1.0"/>
<path d="M153.30 429.18L156.30 429.78L159.00 429.38L162.30 431.40L172.00 427.36L177.70 431.00L183.00 432.61L188.40 433.82L193.70 427.76L199.00 427.76L211.80 432.61L220.10 429.78L230.70 430.59L241.30 432.21L251.90 435.84" fill="none" stroke="#000" stroke-width="1.0"/>
<circle cx="50.80" cy="421.30" r="2.30" fill="#000"/>
<circle cx="67.30" cy="416.86" r="2.30" fill="#000"/>
<circle cx="74.29" cy="417.66" r="2.30" fill="#000"/>
<circle cx="83.60" cy="415.64" r="2.30" fill="#000"/>
<circle cx="90.59" cy="422.11" r="2.30" fill="#000"/>
<circle cx="99.90" cy="435.04" r="2.30" fill="#000"/>
<circle cx="116.20" cy="433.82" r="2.30" fill="#000"/>
<circle cx="132.50" cy="429.38" r="2.30" fill="#000"/>
<circle cx="148.80" cy="428.57" r="2.30" fill="#000"/>
<circle cx="156.30" cy="429.78" r="2.30" fill="#000"/>
<circle cx="159.00" cy="429.38" r="2.30" fill="#000"/>
<circle cx="162.30" cy="431.40" r="2.30" fill="#000"/>
<circle cx="172.00" cy="427.36" r="2.30" fill="#000"/>
<circle cx="177.70" cy="431.00" r="2.30" fill="#000"/>
<circle cx="183.00" cy="432.61" r="2.30" fill="#000"/>
<circle cx="188.40" cy="433.82" r="2.30" fill="#000"/>
<circle cx="193.70" cy="427.76" r="2.30" fill="#000"/>
<circle cx="199.00" cy="427.76" r="2.30" fill="#000"/>
<circle cx="211.80" cy="432.61" r="2.30" fill="#000"/>
<circle cx="220.10" cy="429.78" r="2.30" fill="#000"/>
<circle cx="230.70" cy="430.59" r="2.30" fill="#000"/>
<circle cx="241.30" cy="432.21" r="2.30" fill="#000"/>
<circle cx="251.90" cy="435.84" r="2.30" fill="#000"/>
<line x1="307.0" y1="7.10" x2="307.0" y2="139.40" stroke="#000" stroke-width="1.5"/>
<line x1="304.70" y1="129.00" x2="307.0" y2="129.00" stroke="#000" stroke-width="1.2"/>
<text x="304.00" y="132.20" text-anchor="end" font-size="9" >0.5</text>
<line x1="304.70" y1="108.80" x2="307.0" y2="108.80" stroke="#000" stroke-width="1.2"/>
<text x="304.00" y="112.00" text-anchor="end" font-size="9" >1.0</text>
<line x1="304.70" y1="88.60" x2="307.0" y2="88.60" stroke="#000" stroke-width="1.2"/>
<text x="304.00" y="91.80" text-anchor="end" font-size="9" >1.5</text>
<line x1="304.70" y1="68.40" x2="307.0" y2="68.40" stroke="#000" stroke-width="1.2"/>
<text x="304.00" y="71.60" text-anchor="end" font-size="9" >2.0</text>
<line x1="304.70" y1="48.20" x2="307.0" y2="48.20" stroke="#000" stroke-width="1.2"/>
<text x="304.00" y="51.40" text-anchor="end" font-size="9" >2.5</text>
<line x1="304.70" y1="28.00" x2="307.0" y2="28.00" stroke="#000" stroke-width="1.2"/>
<text x="304.00" y="31.20" text-anchor="end" font-size="9" >3.0</text>
<line x1="304.70" y1="7.80" x2="307.0" y2="7.80" stroke="#000" stroke-width="1.2"/>
<text x="304.00" y="11.00" text-anchor="end" font-size="9" >3.5</text>
<line x1="313.50" y1="108.80" x2="513.60" y2="108.80" stroke="#000" stroke-width="1.3" stroke-dasharray="2.2,1.83"/>
<path d="M313.80 108.80L330.30 99.91L337.29 82.94L346.60 51.43L353.59 93.85L362.90 114.86L379.20 28.81L395.50 28.81L411.80 90.22" fill="none" stroke="#000" stroke-width="1.0"/>
<path d="M416.30 85.37L419.30 80.52L422.00 68.40L425.30 83.75L435.00 95.06L440.70 86.98L446.00 89.81L451.40 83.75L456.70 91.43L462.00 103.55L474.80 103.55L483.10 99.51L493.70 97.08L504.30 112.44L514.90 93.04" fill="none" stroke="#000" stroke-width="1.0"/>
<path d="M313.80 105.80L316.80 108.80L313.80 111.80L310.80 108.80Z" fill="#000"/>
<path d="M330.30 96.91L333.30 99.91L330.30 102.91L327.30 99.91Z" fill="#000"/>
<path d="M337.29 79.94L340.29 82.94L337.29 85.94L334.29 82.94Z" fill="#000"/>
<path d="M346.60 48.43L349.60 51.43L346.60 54.43L343.60 51.43Z" fill="#000"/>
<path d="M353.59 90.85L356.59 93.85L353.59 96.85L350.59 93.85Z" fill="#000"/>
<path d="M362.90 111.86L365.90 114.86L362.90 117.86L359.90 114.86Z" fill="#000"/>
<path d="M379.20 25.81L382.20 28.81L379.20 31.81L376.20 28.81Z" fill="#000"/>
<path d="M395.50 25.81L398.50 28.81L395.50 31.81L392.50 28.81Z" fill="#000"/>
<path d="M411.80 87.22L414.80 90.22L411.80 93.22L408.80 90.22Z" fill="#000"/>
<path d="M419.30 77.52L422.30 80.52L419.30 83.52L416.30 80.52Z" fill="#000"/>
<path d="M422.00 65.40L425.00 68.40L422.00 71.40L419.00 68.40Z" fill="#000"/>
<path d="M425.30 80.75L428.30 83.75L425.30 86.75L422.30 83.75Z" fill="#000"/>
<path d="M435.00 92.06L438.00 95.06L435.00 98.06L432.00 95.06Z" fill="#000"/>
<path d="M440.70 83.98L443.70 86.98L440.70 89.98L437.70 86.98Z" fill="#000"/>
<path d="M446.00 86.81L449.00 89.81L446.00 92.81L443.00 89.81Z" fill="#000"/>
<path d="M451.40 80.75L454.40 83.75L451.40 86.75L448.40 83.75Z" fill="#000"/>
<path d="M456.70 88.43L459.70 91.43L456.70 94.43L453.70 91.43Z" fill="#000"/>
<path d="M462.00 100.55L465.00 103.55L462.00 106.55L459.00 103.55Z" fill="#000"/>
<path d="M474.80 100.55L477.80 103.55L474.80 106.55L471.80 103.55Z" fill="#000"/>
<path d="M483.10 96.51L486.10 99.51L483.10 102.51L480.10 99.51Z" fill="#000"/>
<path d="M493.70 94.08L496.70 97.08L493.70 100.08L490.70 97.08Z" fill="#000"/>
<path d="M504.30 109.44L507.30 112.44L504.30 115.44L501.30 112.44Z" fill="#000"/>
<path d="M514.90 90.04L517.90 93.04L514.90 96.04L511.90 93.04Z" fill="#000"/>
<path d="M313.80 108.80L330.30 59.51L337.29 116.48L346.60 93.04L353.59 98.30L362.90 130.62L379.20 96.68L395.50 95.06L411.80 110.01" fill="none" stroke="#000" stroke-width="1.0"/>
<path d="M416.30 108.40L419.30 106.78L422.00 108.80L425.30 110.82L435.00 110.82L440.70 106.38L446.00 116.88L451.40 106.38L456.70 112.84L462.00 92.24L474.80 118.50L483.10 112.03L493.70 110.82L504.30 118.90L514.90 114.46" fill="none" stroke="#000" stroke-width="1.0"/>
<polygon points="313.80,105.90 314.71,107.85 316.84,108.11 315.27,109.58 315.68,111.69 313.80,110.65 311.92,111.69 312.33,109.58 310.76,108.11 312.89,107.85" fill="#000"/>
<polygon points="330.30,56.61 331.21,58.56 333.34,58.82 331.77,60.29 332.18,62.40 330.30,61.36 328.42,62.40 328.83,60.29 327.26,58.82 329.39,58.56" fill="#000"/>
<polygon points="337.29,113.58 338.20,115.52 340.33,115.79 338.76,117.25 339.17,119.36 337.29,118.33 335.40,119.36 335.81,117.25 334.24,115.79 336.37,115.52" fill="#000"/>
<polygon points="346.60,90.14 347.51,92.09 349.64,92.36 348.07,93.82 348.48,95.93 346.60,94.89 344.72,95.93 345.13,93.82 343.56,92.36 345.69,92.09" fill="#000"/>
<polygon points="353.59,95.40 354.50,97.34 356.63,97.61 355.06,99.07 355.47,101.18 353.59,100.15 351.70,101.18 352.11,99.07 350.54,97.61 352.67,97.34" fill="#000"/>
<polygon points="362.90,127.72 363.81,129.66 365.94,129.93 364.37,131.39 364.78,133.50 362.90,132.47 361.02,133.50 361.43,131.39 359.86,129.93 361.99,129.66" fill="#000"/>
<polygon points="379.20,93.78 380.11,95.73 382.24,95.99 380.67,97.46 381.08,99.57 379.20,98.53 377.32,99.57 377.73,97.46 376.16,95.99 378.29,95.73" fill="#000"/>
<polygon points="395.50,92.16 396.41,94.11 398.54,94.38 396.97,95.84 397.38,97.95 395.50,96.91 393.62,97.95 394.03,95.84 392.46,94.38 394.59,94.11" fill="#000"/>
<polygon points="411.80,107.11 412.71,109.06 414.84,109.32 413.27,110.79 413.68,112.90 411.80,111.86 409.92,112.90 410.33,110.79 408.76,109.32 410.89,109.06" fill="#000"/>
<polygon points="419.30,103.88 420.21,105.83 422.34,106.09 420.77,107.56 421.18,109.67 419.30,108.63 417.42,109.67 417.83,107.56 416.26,106.09 418.39,105.83" fill="#000"/>
<polygon points="422.00,105.90 422.91,107.85 425.04,108.11 423.47,109.58 423.88,111.69 422.00,110.65 420.12,111.69 420.53,109.58 418.96,108.11 421.09,107.85" fill="#000"/>
<polygon points="425.30,107.92 426.21,109.87 428.34,110.13 426.77,111.60 427.18,113.71 425.30,112.67 423.42,113.71 423.83,111.60 422.26,110.13 424.39,109.87" fill="#000"/>
<polygon points="435.00,107.92 435.91,109.87 438.04,110.13 436.47,111.60 436.88,113.71 435.00,112.67 433.12,113.71 433.53,111.60 431.96,110.13 434.09,109.87" fill="#000"/>
<polygon points="440.70,103.48 441.61,105.42 443.74,105.69 442.17,107.15 442.58,109.26 440.70,108.23 438.82,109.26 439.23,107.15 437.66,105.69 439.79,105.42" fill="#000"/>
<polygon points="446.00,113.98 446.91,115.93 449.04,116.19 447.47,117.66 447.88,119.77 446.00,118.73 444.12,119.77 444.53,117.66 442.96,116.19 445.09,115.93" fill="#000"/>
<polygon points="451.40,103.48 452.31,105.42 454.44,105.69 452.87,107.15 453.28,109.26 451.40,108.23 449.52,109.26 449.93,107.15 448.36,105.69 450.49,105.42" fill="#000"/>
<polygon points="456.70,109.94 457.61,111.89 459.74,112.15 458.17,113.62 458.58,115.73 456.70,114.69 454.82,115.73 455.23,113.62 453.66,112.15 455.79,111.89" fill="#000"/>
<polygon points="462.00,89.34 462.91,91.28 465.04,91.55 463.47,93.01 463.88,95.12 462.00,94.09 460.12,95.12 460.53,93.01 458.96,91.55 461.09,91.28" fill="#000"/>
<polygon points="474.80,115.60 475.71,117.54 477.84,117.81 476.27,119.27 476.68,121.38 474.80,120.35 472.92,121.38 473.33,119.27 471.76,117.81 473.89,117.54" fill="#000"/>
<polygon points="483.10,109.13 484.01,111.08 486.14,111.34 484.57,112.81 484.98,114.92 483.10,113.88 481.22,114.92 481.63,112.81 480.06,111.34 482.19,111.08" fill="#000"/>
<polygon points="493.70,107.92 494.61,109.87 496.74,110.13 495.17,111.60 495.58,113.71 493.70,112.67 491.82,113.71 492.23,111.60 490.66,110.13 492.79,109.87" fill="#000"/>
<polygon points="504.30,116.00 505.21,117.95 507.34,118.21 505.77,119.68 506.18,121.79 504.30,120.75 502.42,121.79 502.83,119.68 501.26,118.21 503.39,117.95" fill="#000"/>
<polygon points="514.90,111.56 515.81,113.50 517.94,113.77 516.37,115.23 516.78,117.34 514.90,116.31 513.02,117.34 513.43,115.23 511.86,113.77 513.99,113.50" fill="#000"/>
<path d="M313.80 108.80L330.30 122.13L337.29 118.90L346.60 100.32L353.59 110.42L362.90 115.67L379.20 103.14L395.50 104.76L411.80 116.07" fill="none" stroke="#000" stroke-width="1.0"/>
<path d="M416.30 113.45L419.30 110.82L422.00 114.86L425.30 116.88L435.00 116.88L440.70 118.90L446.00 120.92L451.40 120.11L456.70 120.11L462.00 123.75L474.80 132.23L483.10 123.75L493.70 120.92L504.30 131.02L514.90 139.10" fill="none" stroke="#000" stroke-width="1.0"/>
<circle cx="313.80" cy="108.80" r="2.30" fill="#000"/>
<circle cx="330.30" cy="122.13" r="2.30" fill="#000"/>
<circle cx="337.29" cy="118.90" r="2.30" fill="#000"/>
<circle cx="346.60" cy="100.32" r="2.30" fill="#000"/>
<circle cx="353.59" cy="110.42" r="2.30" fill="#000"/>
<circle cx="362.90" cy="115.67" r="2.30" fill="#000"/>
<circle cx="379.20" cy="103.14" r="2.30" fill="#000"/>
<circle cx="395.50" cy="104.76" r="2.30" fill="#000"/>
<circle cx="411.80" cy="116.07" r="2.30" fill="#000"/>
<circle cx="419.30" cy="110.82" r="2.30" fill="#000"/>
<circle cx="422.00" cy="114.86" r="2.30" fill="#000"/>
<circle cx="425.30" cy="116.88" r="2.30" fill="#000"/>
<circle cx="435.00" cy="116.88" r="2.30" fill="#000"/>
<circle cx="440.70" cy="118.90" r="2.30" fill="#000"/>
<circle cx="446.00" cy="120.92" r="2.30" fill="#000"/>
<circle cx="451.40" cy="120.11" r="2.30" fill="#000"/>
<circle cx="456.70" cy="120.11" r="2.30" fill="#000"/>
<circle cx="462.00" cy="123.75" r="2.30" fill="#000"/>
<circle cx="474.80" cy="132.23" r="2.30" fill="#000"/>
<circle cx="483.10" cy="123.75" r="2.30" fill="#000"/>
<circle cx="493.70" cy="120.92" r="2.30" fill="#000"/>
<circle cx="504.30" cy="131.02" r="2.30" fill="#000"/>
<circle cx="514.90" cy="139.10" r="2.30" fill="#000"/>
<path d="M313.80 108.80L330.30 112.44L337.29 117.69L346.60 110.01L353.59 124.15L362.90 130.62L379.20 120.11L395.50 116.88L411.80 114.46" fill="none" stroke="#000" stroke-width="1.0"/>
<path d="M416.30 108.60L419.30 102.74L422.00 103.95L425.30 108.80L435.00 112.84L440.70 124.15L446.00 131.02L451.40 122.94L456.70 117.69L462.00 118.50L474.80 129.81L483.10 116.07L493.70 118.50L504.30 123.34L514.90 126.17" fill="none" stroke="#000" stroke-width="1.0"/>
<rect x="311.55" y="106.55" width="4.50" height="4.50" fill="#000"/>
<rect x="328.05" y="110.19" width="4.50" height="4.50" fill="#000"/>
<rect x="335.04" y="115.44" width="4.50" height="4.50" fill="#000"/>
<rect x="344.35" y="107.76" width="4.50" height="4.50" fill="#000"/>
<rect x="351.34" y="121.90" width="4.50" height="4.50" fill="#000"/>
<rect x="360.65" y="128.37" width="4.50" height="4.50" fill="#000"/>
<rect x="376.95" y="117.86" width="4.50" height="4.50" fill="#000"/>
<rect x="393.25" y="114.63" width="4.50" height="4.50" fill="#000"/>
<rect x="409.55" y="112.21" width="4.50" height="4.50" fill="#000"/>
<rect x="417.05" y="100.49" width="4.50" height="4.50" fill="#000"/>
<rect x="419.75" y="101.70" width="4.50" height="4.50" fill="#000"/>
<rect x="423.05" y="106.55" width="4.50" height="4.50" fill="#000"/>
<rect x="432.75" y="110.59" width="4.50" height="4.50" fill="#000"/>
<rect x="438.45" y="121.90" width="4.50" height="4.50" fill="#000"/>
<rect x="443.75" y="128.77" width="4.50" height="4.50" fill="#000"/>
<rect x="449.15" y="120.69" width="4.50" height="4.50" fill="#000"/>
<rect x="454.45" y="115.44" width="4.50" height="4.50" fill="#000"/>
<rect x="459.75" y="116.25" width="4.50" height="4.50" fill="#000"/>
<rect x="472.55" y="127.56" width="4.50" height="4.50" fill="#000"/>
<rect x="480.85" y="113.82" width="4.50" height="4.50" fill="#000"/>
<rect x="491.45" y="116.25" width="4.50" height="4.50" fill="#000"/>
<rect x="502.05" y="121.09" width="4.50" height="4.50" fill="#000"/>
<rect x="512.65" y="123.92" width="4.50" height="4.50" fill="#000"/>
<path d="M313.80 108.80L330.30 95.47L337.29 97.49L346.60 104.76L353.59 111.22L362.90 135.87L379.20 116.88L395.50 112.44L411.80 117.69" fill="none" stroke="#000" stroke-width="1.0"/>
<path d="M416.30 116.27L419.30 114.86L422.00 116.88L425.30 118.90L435.00 125.77L440.70 118.90L446.00 114.86L451.40 106.38L456.70 116.88L462.00 118.90L474.80 124.96L483.10 120.92L493.70 129.00L504.30 120.92L514.90 122.94" fill="none" stroke="#000" stroke-width="1.0"/>
<path d="M313.80 105.80L316.80 108.80L313.80 111.80L310.80 108.80Z" fill="#000"/>
<path d="M330.30 92.47L333.30 95.47L330.30 98.47L327.30 95.47Z" fill="#000"/>
<path d="M337.29 94.49L340.29 97.49L337.29 100.49L334.29 97.49Z" fill="#000"/>
<path d="M346.60 101.76L349.60 104.76L346.60 107.76L343.60 104.76Z" fill="#000"/>
<path d="M353.59 108.22L356.59 111.22L353.59 114.22L350.59 111.22Z" fill="#000"/>
<path d="M362.90 132.87L365.90 135.87L362.90 138.87L359.90 135.87Z" fill="#000"/>
<path d="M379.20 113.88L382.20 116.88L379.20 119.88L376.20 116.88Z" fill="#000"/>
<path d="M395.50 109.44L398.50 112.44L395.50 115.44L392.50 112.44Z" fill="#000"/>
<path d="M411.80 114.69L414.80 117.69L411.80 120.69L408.80 117.69Z" fill="#000"/>
<path d="M419.30 111.86L422.30 114.86L419.30 117.86L416.30 114.86Z" fill="#000"/>
<path d="M422.00 113.88L425.00 116.88L422.00 119.88L419.00 116.88Z" fill="#000"/>
<path d="M425.30 115.90L428.30 118.90L425.30 121.90L422.30 118.90Z" fill="#000"/>
<path d="M435.00 122.77L438.00 125.77L435.00 128.77L432.00 125.77Z" fill="#000"/>
<path d="M440.70 115.90L443.70 118.90L440.70 121.90L437.70 118.90Z" fill="#000"/>
<path d="M446.00 111.86L449.00 114.86L446.00 117.86L443.00 114.86Z" fill="#000"/>
<path d="M451.40 103.38L454.40 106.38L451.40 109.38L448.40 106.38Z" fill="#000"/>
<path d="M456.70 113.88L459.70 116.88L456.70 119.88L453.70 116.88Z" fill="#000"/>
<path d="M462.00 115.90L465.00 118.90L462.00 121.90L459.00 118.90Z" fill="#000"/>
<path d="M474.80 121.96L477.80 124.96L474.80 127.96L471.80 124.96Z" fill="#000"/>
<path d="M483.10 117.92L486.10 120.92L483.10 123.92L480.10 120.92Z" fill="#000"/>
<path d="M493.70 126.00L496.70 129.00L493.70 132.00L490.70 129.00Z" fill="#000"/>
<path d="M504.30 117.92L507.30 120.92L504.30 123.92L501.30 120.92Z" fill="#000"/>
<path d="M514.90 119.94L517.90 122.94L514.90 125.94L511.90 122.94Z" fill="#000"/>
<path d="M313.80 108.80L330.30 106.78L337.29 110.82L346.60 106.78L353.59 112.84L362.90 129.00L379.20 108.80L395.50 114.86L411.80 129.40" fill="none" stroke="#000" stroke-width="1.0"/>
<path d="M416.30 124.15L419.30 118.90L422.00 120.92L425.30 121.73L435.00 120.11L440.70 121.73L446.00 124.96L451.40 126.98L456.70 124.96L462.00 124.96L474.80 126.98L483.10 122.54L493.70 124.15L504.30 124.96L514.90 132.23" fill="none" stroke="#000" stroke-width="1.0"/>
<polygon points="313.80,105.80 314.40,107.76 316.40,107.30 315.00,108.80 316.40,110.30 314.40,109.84 313.80,111.80 313.20,109.84 311.20,110.30 312.60,108.80 311.20,107.30 313.20,107.76" fill="#000"/>
<polygon points="330.30,103.78 330.90,105.74 332.90,105.28 331.50,106.78 332.90,108.28 330.90,107.82 330.30,109.78 329.70,107.82 327.70,108.28 329.10,106.78 327.70,105.28 329.70,105.74" fill="#000"/>
<polygon points="337.29,107.82 337.89,109.78 339.88,109.32 338.49,110.82 339.88,112.32 337.89,111.86 337.29,113.82 336.69,111.86 334.69,112.32 336.09,110.82 334.69,109.32 336.69,109.78" fill="#000"/>
<polygon points="346.60,103.78 347.20,105.74 349.20,105.28 347.80,106.78 349.20,108.28 347.20,107.82 346.60,109.78 346.00,107.82 344.00,108.28 345.40,106.78 344.00,105.28 346.00,105.74" fill="#000"/>
<polygon points="353.59,109.84 354.19,111.80 356.18,111.34 354.79,112.84 356.18,114.34 354.19,113.88 353.59,115.84 352.99,113.88 350.99,114.34 352.39,112.84 350.99,111.34 352.99,111.80" fill="#000"/>
<polygon points="362.90,126.00 363.50,127.96 365.50,127.50 364.10,129.00 365.50,130.50 363.50,130.04 362.90,132.00 362.30,130.04 360.30,130.50 361.70,129.00 360.30,127.50 362.30,127.96" fill="#000"/>
<polygon points="379.20,105.80 379.80,107.76 381.80,107.30 380.40,108.80 381.80,110.30 379.80,109.84 379.20,111.80 378.60,109.84 376.60,110.30 378.00,108.80 376.60,107.30 378.60,107.76" fill="#000"/>
<polygon points="395.50,111.86 396.10,113.82 398.10,113.36 396.70,114.86 398.10,116.36 396.10,115.90 395.50,117.86 394.90,115.90 392.90,116.36 394.30,114.86 392.90,113.36 394.90,113.82" fill="#000"/>
<polygon points="411.80,126.40 412.40,128.36 414.40,127.90 413.00,129.40 414.40,130.90 412.40,130.44 411.80,132.40 411.20,130.44 409.20,130.90 410.60,129.40 409.20,127.90 411.20,128.36" fill="#000"/>
<polygon points="419.30,115.90 419.90,117.86 421.90,117.40 420.50,118.90 421.90,120.40 419.90,119.94 419.30,121.90 418.70,119.94 416.70,120.40 418.10,118.90 416.70,117.40 418.70,117.86" fill="#000"/>
<polygon points="422.00,117.92 422.60,119.88 424.60,119.42 423.20,120.92 424.60,122.42 422.60,121.96 422.00,123.92 421.40,121.96 419.40,122.42 420.80,120.92 419.40,119.42 421.40,119.88" fill="#000"/>
<polygon points="425.30,118.73 425.90,120.69 427.90,120.23 426.50,121.73 427.90,123.23 425.90,122.77 425.30,124.73 424.70,122.77 422.70,123.23 424.10,121.73 422.70,120.23 424.70,120.69" fill="#000"/>
<polygon points="435.00,117.11 435.60,119.07 437.60,118.61 436.20,120.11 437.60,121.61 435.60,121.15 435.00,123.11 434.40,121.15 432.40,121.61 433.80,120.11 432.40,118.61 434.40,119.07" fill="#000"/>
<polygon points="440.70,118.73 441.30,120.69 443.30,120.23 441.90,121.73 443.30,123.23 441.30,122.77 440.70,124.73 440.10,122.77 438.10,123.23 439.50,121.73 438.10,120.23 440.10,120.69" fill="#000"/>
<polygon points="446.00,121.96 446.60,123.92 448.60,123.46 447.20,124.96 448.60,126.46 446.60,126.00 446.00,127.96 445.40,126.00 443.40,126.46 444.80,124.96 443.40,123.46 445.40,123.92" fill="#000"/>
<polygon points="451.40,123.98 452.00,125.94 454.00,125.48 452.60,126.98 454.00,128.48 452.00,128.02 451.40,129.98 450.80,128.02 448.80,128.48 450.20,126.98 448.80,125.48 450.80,125.94" fill="#000"/>
<polygon points="456.70,121.96 457.30,123.92 459.30,123.46 457.90,124.96 459.30,126.46 457.30,126.00 456.70,127.96 456.10,126.00 454.10,126.46 455.50,124.96 454.10,123.46 456.10,123.92" fill="#000"/>
<polygon points="462.00,121.96 462.60,123.92 464.60,123.46 463.20,124.96 464.60,126.46 462.60,126.00 462.00,127.96 461.40,126.00 459.40,126.46 460.80,124.96 459.40,123.46 461.40,123.92" fill="#000"/>
<polygon points="474.80,123.98 475.40,125.94 477.40,125.48 476.00,126.98 477.40,128.48 475.40,128.02 474.80,129.98 474.20,128.02 472.20,128.48 473.60,126.98 472.20,125.48 474.20,125.94" fill="#000"/>
<polygon points="483.10,119.54 483.70,121.50 485.70,121.04 484.30,122.54 485.70,124.04 483.70,123.58 483.10,125.54 482.50,123.58 480.50,124.04 481.90,122.54 480.50,121.04 482.50,121.50" fill="#000"/>
<polygon points="493.70,121.15 494.30,123.11 496.30,122.65 494.90,124.15 496.30,125.65 494.30,125.19 493.70,127.15 493.10,125.19 491.10,125.65 492.50,124.15 491.10,122.65 493.10,123.11" fill="#000"/>
<polygon points="504.30,121.96 504.90,123.92 506.90,123.46 505.50,124.96 506.90,126.46 504.90,126.00 504.30,127.96 503.70,126.00 501.70,126.46 503.10,124.96 501.70,123.46 503.70,123.92" fill="#000"/>
<polygon points="514.90,129.23 515.50,131.19 517.50,130.73 516.10,132.23 517.50,133.73 515.50,133.27 514.90,135.23 514.30,133.27 512.30,133.73 513.70,132.23 512.30,130.73 514.30,131.19" fill="#000"/>
<line x1="307.0" y1="167.10" x2="307.0" y2="299.40" stroke="#000" stroke-width="1.5"/>
<line x1="304.70" y1="289.00" x2="307.0" y2="289.00" stroke="#000" stroke-width="1.2"/>
<text x="304.00" y="292.20" text-anchor="end" font-size="9" >0.5</text>
<line x1="304.70" y1="268.80" x2="307.0" y2="268.80" stroke="#000" stroke-width="1.2"/>
<text x="304.00" y="272.00" text-anchor="end" font-size="9" >1.0</text>
<line x1="304.70" y1="248.60" x2="307.0" y2="248.60" stroke="#000" stroke-width="1.2"/>
<text x="304.00" y="251.80" text-anchor="end" font-size="9" >1.5</text>
<line x1="304.70" y1="228.40" x2="307.0" y2="228.40" stroke="#000" stroke-width="1.2"/>
<text x="304.00" y="231.60" text-anchor="end" font-size="9" >2.0</text>
<line x1="304.70" y1="208.20" x2="307.0" y2="208.20" stroke="#000" stroke-width="1.2"/>
<text x="304.00" y="211.40" text-anchor="end" font-size="9" >2.5</text>
<line x1="304.70" y1="188.00" x2="307.0" y2="188.00" stroke="#000" stroke-width="1.2"/>
<text x="304.00" y="191.20" text-anchor="end" font-size="9" >3.0</text>
<line x1="304.70" y1="167.80" x2="307.0" y2="167.80" stroke="#000" stroke-width="1.2"/>
<text x="304.00" y="171.00" text-anchor="end" font-size="9" >3.5</text>
<line x1="313.50" y1="268.80" x2="513.60" y2="268.80" stroke="#000" stroke-width="1.3" stroke-dasharray="2.2,1.83"/>
<path d="M313.80 268.80L330.30 274.46L337.29 274.46L346.60 219.92L353.59 251.43L362.90 280.11L379.20 267.18L395.50 237.69L411.80 242.94" fill="none" stroke="#000" stroke-width="1.0"/>
<path d="M416.30 245.77L419.30 248.60L422.00 234.86L425.30 252.64L435.00 264.76L440.70 258.70L446.00 269.20L451.40 252.64L456.70 249.00L462.00 258.70L474.80 283.34L483.10 278.90L493.70 280.92L504.30 273.65L514.90 273.65" fill="none" stroke="#000" stroke-width="1.0"/>
<rect x="311.60" y="266.60" width="4.40" height="4.40" fill="none" stroke="#000" stroke-width="1.0"/>
<rect x="328.10" y="272.26" width="4.40" height="4.40" fill="none" stroke="#000" stroke-width="1.0"/>
<rect x="335.09" y="272.26" width="4.40" height="4.40" fill="none" stroke="#000" stroke-width="1.0"/>
<rect x="344.40" y="217.72" width="4.40" height="4.40" fill="none" stroke="#000" stroke-width="1.0"/>
<rect x="351.39" y="249.23" width="4.40" height="4.40" fill="none" stroke="#000" stroke-width="1.0"/>
<rect x="360.70" y="277.91" width="4.40" height="4.40" fill="none" stroke="#000" stroke-width="1.0"/>
<rect x="377.00" y="264.98" width="4.40" height="4.40" fill="none" stroke="#000" stroke-width="1.0"/>
<rect x="393.30" y="235.49" width="4.40" height="4.40" fill="none" stroke="#000" stroke-width="1.0"/>
<rect x="409.60" y="240.74" width="4.40" height="4.40" fill="none" stroke="#000" stroke-width="1.0"/>
<rect x="417.10" y="246.40" width="4.40" height="4.40" fill="none" stroke="#000" stroke-width="1.0"/>
<rect x="419.80" y="232.66" width="4.40" height="4.40" fill="none" stroke="#000" stroke-width="1.0"/>
<rect x="423.10" y="250.44" width="4.40" height="4.40" fill="none" stroke="#000" stroke-width="1.0"/>
<rect x="432.80" y="262.56" width="4.40" height="4.40" fill="none" stroke="#000" stroke-width="1.0"/>
<rect x="438.50" y="256.50" width="4.40" height="4.40" fill="none" stroke="#000" stroke-width="1.0"/>
<rect x="443.80" y="267.00" width="4.40" height="4.40" fill="none" stroke="#000" stroke-width="1.0"/>
<rect x="449.20" y="250.44" width="4.40" height="4.40" fill="none" stroke="#000" stroke-width="1.0"/>
<rect x="454.50" y="246.80" width="4.40" height="4.40" fill="none" stroke="#000" stroke-width="1.0"/>
<rect x="459.80" y="256.50" width="4.40" height="4.40" fill="none" stroke="#000" stroke-width="1.0"/>
<rect x="472.60" y="281.14" width="4.40" height="4.40" fill="none" stroke="#000" stroke-width="1.0"/>
<rect x="480.90" y="276.70" width="4.40" height="4.40" fill="none" stroke="#000" stroke-width="1.0"/>
<rect x="491.50" y="278.72" width="4.40" height="4.40" fill="none" stroke="#000" stroke-width="1.0"/>
<rect x="502.10" y="271.45" width="4.40" height="4.40" fill="none" stroke="#000" stroke-width="1.0"/>
<rect x="512.70" y="271.45" width="4.40" height="4.40" fill="none" stroke="#000" stroke-width="1.0"/>
<path d="M313.80 268.80L330.30 231.23L337.29 244.16L346.60 250.62L353.59 274.86L362.90 272.03L379.20 292.64L395.50 259.51L411.80 254.26" fill="none" stroke="#000" stroke-width="1.0"/>
<path d="M416.30 259.51L419.30 264.76L422.00 268.80L425.30 272.84L435.00 272.84L440.70 270.82L446.00 274.86L451.40 270.82L456.70 260.72L462.00 272.84L474.80 292.23L483.10 280.92L493.70 278.90L504.30 280.92L514.90 280.92" fill="none" stroke="#000" stroke-width="1.0"/>
<path d="M313.80 272.10L317.10 266.32L310.50 266.32Z" fill="none" stroke="#000" stroke-width="1.0"/>
<path d="M330.30 234.53L333.60 228.75L327.00 228.75Z" fill="none" stroke="#000" stroke-width="1.0"/>
<path d="M337.29 247.46L340.59 241.68L333.99 241.68Z" fill="none" stroke="#000" stroke-width="1.0"/>
<path d="M346.60 253.92L349.90 248.15L343.30 248.15Z" fill="none" stroke="#000" stroke-width="1.0"/>
<path d="M353.59 278.16L356.89 272.38L350.29 272.38Z" fill="none" stroke="#000" stroke-width="1.0"/>
<path d="M362.90 275.33L366.20 269.56L359.60 269.56Z" fill="none" stroke="#000" stroke-width="1.0"/>
<path d="M379.20 295.94L382.50 290.16L375.90 290.16Z" fill="none" stroke="#000" stroke-width="1.0"/>
<path d="M395.50 262.81L398.80 257.03L392.20 257.03Z" fill="none" stroke="#000" stroke-width="1.0"/>
<path d="M411.80 257.56L415.10 251.78L408.50 251.78Z" fill="none" stroke="#000" stroke-width="1.0"/>
<path d="M419.30 268.06L422.60 262.28L416.00 262.28Z" fill="none" stroke="#000" stroke-width="1.0"/>
<path d="M422.00 272.10L425.30 266.32L418.70 266.32Z" fill="none" stroke="#000" stroke-width="1.0"/>
<path d="M425.30 276.14L428.60 270.37L422.00 270.37Z" fill="none" stroke="#000" stroke-width="1.0"/>
<path d="M435.00 276.14L438.30 270.37L431.70 270.37Z" fill="none" stroke="#000" stroke-width="1.0"/>
<path d="M440.70 274.12L444.00 268.34L437.40 268.34Z" fill="none" stroke="#000" stroke-width="1.0"/>
<path d="M446.00 278.16L449.30 272.38L442.70 272.38Z" fill="none" stroke="#000" stroke-width="1.0"/>
<path d="M451.40 274.12L454.70 268.34L448.10 268.34Z" fill="none" stroke="#000" stroke-width="1.0"/>
<path d="M456.70 264.02L460.00 258.25L453.40 258.25Z" fill="none" stroke="#000" stroke-width="1.0"/>
<path d="M462.00 276.14L465.30 270.37L458.70 270.37Z" fill="none" stroke="#000" stroke-width="1.0"/>
<path d="M474.80 295.53L478.10 289.76L471.50 289.76Z" fill="none" stroke="#000" stroke-width="1.0"/>
<path d="M483.10 284.22L486.40 278.44L479.80 278.44Z" fill="none" stroke="#000" stroke-width="1.0"/>
<path d="M493.70 282.20L497.00 276.43L490.40 276.43Z" fill="none" stroke="#000" stroke-width="1.0"/>
<path d="M504.30 284.22L507.60 278.44L501.00 278.44Z" fill="none" stroke="#000" stroke-width="1.0"/>
<path d="M514.90 284.22L518.20 278.44L511.60 278.44Z" fill="none" stroke="#000" stroke-width="1.0"/>
<path d="M313.80 268.80L330.30 250.62L337.29 237.69L346.60 253.04L353.59 265.97L362.90 289.00L379.20 255.87L395.50 230.82L411.80 251.83" fill="none" stroke="#000" stroke-width="1.0"/>
<path d="M416.30 256.28L419.30 260.72L422.00 256.68L425.30 264.76L435.00 244.56L440.70 236.08L446.00 248.20L451.40 242.54L456.70 256.68L462.00 264.76L474.80 266.78L483.10 274.46L493.70 276.88L504.30 278.90L514.90 276.88" fill="none" stroke="#000" stroke-width="1.0"/>
<circle cx="313.80" cy="268.80" r="2.70" fill="none" stroke="#000" stroke-width="1.0"/>
<circle cx="330.30" cy="250.62" r="2.70" fill="none" stroke="#000" stroke-width="1.0"/>
<circle cx="337.29" cy="237.69" r="2.70" fill="none" stroke="#000" stroke-width="1.0"/>
<circle cx="346.60" cy="253.04" r="2.70" fill="none" stroke="#000" stroke-width="1.0"/>
<circle cx="353.59" cy="265.97" r="2.70" fill="none" stroke="#000" stroke-width="1.0"/>
<circle cx="362.90" cy="289.00" r="2.70" fill="none" stroke="#000" stroke-width="1.0"/>
<circle cx="379.20" cy="255.87" r="2.70" fill="none" stroke="#000" stroke-width="1.0"/>
<circle cx="395.50" cy="230.82" r="2.70" fill="none" stroke="#000" stroke-width="1.0"/>
<circle cx="411.80" cy="251.83" r="2.70" fill="none" stroke="#000" stroke-width="1.0"/>
<circle cx="419.30" cy="260.72" r="2.70" fill="none" stroke="#000" stroke-width="1.0"/>
<circle cx="422.00" cy="256.68" r="2.70" fill="none" stroke="#000" stroke-width="1.0"/>
<circle cx="425.30" cy="264.76" r="2.70" fill="none" stroke="#000" stroke-width="1.0"/>
<circle cx="435.00" cy="244.56" r="2.70" fill="none" stroke="#000" stroke-width="1.0"/>
<circle cx="440.70" cy="236.08" r="2.70" fill="none" stroke="#000" stroke-width="1.0"/>
<circle cx="446.00" cy="248.20" r="2.70" fill="none" stroke="#000" stroke-width="1.0"/>
<circle cx="451.40" cy="242.54" r="2.70" fill="none" stroke="#000" stroke-width="1.0"/>
<circle cx="456.70" cy="256.68" r="2.70" fill="none" stroke="#000" stroke-width="1.0"/>
<circle cx="462.00" cy="264.76" r="2.70" fill="none" stroke="#000" stroke-width="1.0"/>
<circle cx="474.80" cy="266.78" r="2.70" fill="none" stroke="#000" stroke-width="1.0"/>
<circle cx="483.10" cy="274.46" r="2.70" fill="none" stroke="#000" stroke-width="1.0"/>
<circle cx="493.70" cy="276.88" r="2.70" fill="none" stroke="#000" stroke-width="1.0"/>
<circle cx="504.30" cy="278.90" r="2.70" fill="none" stroke="#000" stroke-width="1.0"/>
<circle cx="514.90" cy="276.88" r="2.70" fill="none" stroke="#000" stroke-width="1.0"/>
<path d="M313.80 268.80L330.30 246.58L337.29 255.87L346.60 222.34L353.59 254.26L362.90 270.82L379.20 282.54L395.50 234.46L411.80 270.82" fill="none" stroke="#000" stroke-width="1.0"/>
<path d="M416.30 263.75L419.30 256.68L422.00 260.72L425.30 268.80L435.00 274.86L440.70 275.67L446.00 277.69L451.40 278.90L456.70 268.80L462.00 277.69L474.80 280.92L483.10 283.34L493.70 283.34L504.30 282.94L514.90 283.34" fill="none" stroke="#000" stroke-width="1.0"/>
<path d="M313.80 265.50L317.10 271.28L310.50 271.28Z" fill="none" stroke="#000" stroke-width="1.0"/>
<path d="M330.30 243.28L333.60 249.06L327.00 249.06Z" fill="none" stroke="#000" stroke-width="1.0"/>
<path d="M337.29 252.57L340.59 258.35L333.99 258.35Z" fill="none" stroke="#000" stroke-width="1.0"/>
<path d="M346.60 219.04L349.90 224.82L343.30 224.82Z" fill="none" stroke="#000" stroke-width="1.0"/>
<path d="M353.59 250.96L356.89 256.73L350.29 256.73Z" fill="none" stroke="#000" stroke-width="1.0"/>
<path d="M362.90 267.52L366.20 273.30L359.60 273.30Z" fill="none" stroke="#000" stroke-width="1.0"/>
<path d="M379.20 279.24L382.50 285.01L375.90 285.01Z" fill="none" stroke="#000" stroke-width="1.0"/>
<path d="M395.50 231.16L398.80 236.94L392.20 236.94Z" fill="none" stroke="#000" stroke-width="1.0"/>
<path d="M411.80 267.52L415.10 273.30L408.50 273.30Z" fill="none" stroke="#000" stroke-width="1.0"/>
<path d="M419.30 253.38L422.60 259.16L416.00 259.16Z" fill="none" stroke="#000" stroke-width="1.0"/>
<path d="M422.00 257.42L425.30 263.20L418.70 263.20Z" fill="none" stroke="#000" stroke-width="1.0"/>
<path d="M425.30 265.50L428.60 271.28L422.00 271.28Z" fill="none" stroke="#000" stroke-width="1.0"/>
<path d="M435.00 271.56L438.30 277.34L431.70 277.34Z" fill="none" stroke="#000" stroke-width="1.0"/>
<path d="M440.70 272.37L444.00 278.14L437.40 278.14Z" fill="none" stroke="#000" stroke-width="1.0"/>
<path d="M446.00 274.39L449.30 280.16L442.70 280.16Z" fill="none" stroke="#000" stroke-width="1.0"/>
<path d="M451.40 275.60L454.70 281.38L448.10 281.38Z" fill="none" stroke="#000" stroke-width="1.0"/>
<path d="M456.70 265.50L460.00 271.28L453.40 271.28Z" fill="none" stroke="#000" stroke-width="1.0"/>
<path d="M462.00 274.39L465.30 280.16L458.70 280.16Z" fill="none" stroke="#000" stroke-width="1.0"/>
<path d="M474.80 277.62L478.10 283.40L471.50 283.40Z" fill="none" stroke="#000" stroke-width="1.0"/>
<path d="M483.10 280.04L486.40 285.82L479.80 285.82Z" fill="none" stroke="#000" stroke-width="1.0"/>
<path d="M493.70 280.04L497.00 285.82L490.40 285.82Z" fill="none" stroke="#000" stroke-width="1.0"/>
<path d="M504.30 279.64L507.60 285.42L501.00 285.42Z" fill="none" stroke="#000" stroke-width="1.0"/>
<path d="M514.90 280.04L518.20 285.82L511.60 285.82Z" fill="none" stroke="#000" stroke-width="1.0"/>
<path d="M313.80 268.80L330.30 258.30L337.29 251.83L346.60 179.92L353.59 268.80L362.90 270.82L379.20 259.51L395.50 241.73L411.80 223.55" fill="none" stroke="#000" stroke-width="1.0"/>
<path d="M416.30 252.44L419.30 281.32L422.00 272.84L425.30 264.76L435.00 278.90L440.70 268.80L446.00 272.84L451.40 276.88L456.70 272.84L462.00 274.86L474.80 276.88L483.10 276.88L493.70 271.22L504.30 284.15L514.90 278.90" fill="none" stroke="#000" stroke-width="1.0"/>
<path d="M313.80 265.40L317.20 268.80L313.80 272.20L310.40 268.80Z" fill="none" stroke="#000" stroke-width="1.0"/>
<path d="M330.30 254.90L333.70 258.30L330.30 261.70L326.90 258.30Z" fill="none" stroke="#000" stroke-width="1.0"/>
<path d="M337.29 248.43L340.69 251.83L337.29 255.23L333.89 251.83Z" fill="none" stroke="#000" stroke-width="1.0"/>
<path d="M346.60 176.52L350.00 179.92L346.60 183.32L343.20 179.92Z" fill="none" stroke="#000" stroke-width="1.0"/>
<path d="M353.59 265.40L356.99 268.80L353.59 272.20L350.19 268.80Z" fill="none" stroke="#000" stroke-width="1.0"/>
<path d="M362.90 267.42L366.30 270.82L362.90 274.22L359.50 270.82Z" fill="none" stroke="#000" stroke-width="1.0"/>
<path d="M379.20 256.11L382.60 259.51L379.20 262.91L375.80 259.51Z" fill="none" stroke="#000" stroke-width="1.0"/>
<path d="M395.50 238.33L398.90 241.73L395.50 245.13L392.10 241.73Z" fill="none" stroke="#000" stroke-width="1.0"/>
<path d="M411.80 220.15L415.20 223.55L411.80 226.95L408.40 223.55Z" fill="none" stroke="#000" stroke-width="1.0"/>
<path d="M419.30 277.92L422.70 281.32L419.30 284.72L415.90 281.32Z" fill="none" stroke="#000" stroke-width="1.0"/>
<path d="M422.00 269.44L425.40 272.84L422.00 276.24L418.60 272.84Z" fill="none" stroke="#000" stroke-width="1.0"/>
<path d="M425.30 261.36L428.70 264.76L425.30 268.16L421.90 264.76Z" fill="none" stroke="#000" stroke-width="1.0"/>
<path d="M435.00 275.50L438.40 278.90L435.00 282.30L431.60 278.90Z" fill="none" stroke="#000" stroke-width="1.0"/>
<path d="M440.70 265.40L444.10 268.80L440.70 272.20L437.30 268.80Z" fill="none" stroke="#000" stroke-width="1.0"/>
<path d="M446.00 269.44L449.40 272.84L446.00 276.24L442.60 272.84Z" fill="none" stroke="#000" stroke-width="1.0"/>
<path d="M451.40 273.48L454.80 276.88L451.40 280.28L448.00 276.88Z" fill="none" stroke="#000" stroke-width="1.0"/>
<path d="M456.70 269.44L460.10 272.84L456.70 276.24L453.30 272.84Z" fill="none" stroke="#000" stroke-width="1.0"/>
<path d="M462.00 271.46L465.40 274.86L462.00 278.26L458.60 274.86Z" fill="none" stroke="#000" stroke-width="1.0"/>
<path d="M474.80 273.48L478.20 276.88L474.80 280.28L471.40 276.88Z" fill="none" stroke="#000" stroke-width="1.0"/>
<path d="M483.10 273.48L486.50 276.88L483.10 280.28L479.70 276.88Z" fill="none" stroke="#000" stroke-width="1.0"/>
<path d="M493.70 267.82L497.10 271.22L493.70 274.62L490.30 271.22Z" fill="none" stroke="#000" stroke-width="1.0"/>
<path d="M504.30 280.75L507.70 284.15L504.30 287.55L500.90 284.15Z" fill="none" stroke="#000" stroke-width="1.0"/>
<path d="M514.90 275.50L518.30 278.90L514.90 282.30L511.50 278.90Z" fill="none" stroke="#000" stroke-width="1.0"/>
<path d="M313.80 268.80L330.30 241.73L337.29 274.46L346.60 250.62L353.59 251.43L362.90 280.11L379.20 270.82L395.50 259.51L411.80 244.16" fill="none" stroke="#000" stroke-width="1.0"/>
<path d="M416.30 242.74L419.30 241.33L422.00 264.76L425.30 276.88L435.00 268.80L440.70 272.84L446.00 268.80L451.40 264.76L456.70 268.80L462.00 270.82L474.80 278.90L483.10 280.11L493.70 281.73L504.30 280.92L514.90 280.11" fill="none" stroke="#000" stroke-width="1.0"/>
<path d="M310.80 268.80H316.80M311.60 266.60L316.00 271.00M316.00 266.60L311.60 271.00" fill="none" stroke="#000" stroke-width="1.0"/>
<path d="M327.30 241.73H333.30M328.10 239.53L332.50 243.93M332.50 239.53L328.10 243.93" fill="none" stroke="#000" stroke-width="1.0"/>
<path d="M334.29 274.46H340.29M335.09 272.26L339.49 276.66M339.49 272.26L335.09 276.66" fill="none" stroke="#000" stroke-width="1.0"/>
<path d="M343.60 250.62H349.60M344.40 248.42L348.80 252.82M348.80 248.42L344.40 252.82" fill="none" stroke="#000" stroke-width="1.0"/>
<path d="M350.59 251.43H356.59M351.39 249.23L355.79 253.63M355.79 249.23L351.39 253.63" fill="none" stroke="#000" stroke-width="1.0"/>
<path d="M359.90 280.11H365.90M360.70 277.91L365.10 282.31M365.10 277.91L360.70 282.31" fill="none" stroke="#000" stroke-width="1.0"/>
<path d="M376.20 270.82H382.20M377.00 268.62L381.40 273.02M381.40 268.62L377.00 273.02" fill="none" stroke="#000" stroke-width="1.0"/>
<path d="M392.50 259.51H398.50M393.30 257.31L397.70 261.71M397.70 257.31L393.30 261.71" fill="none" stroke="#000" stroke-width="1.0"/>
<path d="M408.80 244.16H414.80M409.60 241.96L414.00 246.36M414.00 241.96L409.60 246.36" fill="none" stroke="#000" stroke-width="1.0"/>
<path d="M416.30 241.33H422.30M417.10 239.13L421.50 243.53M421.50 239.13L417.10 243.53" fill="none" stroke="#000" stroke-width="1.0"/>
<path d="M419.00 264.76H425.00M419.80 262.56L424.20 266.96M424.20 262.56L419.80 266.96" fill="none" stroke="#000" stroke-width="1.0"/>
<path d="M422.30 276.88H428.30M423.10 274.68L427.50 279.08M427.50 274.68L423.10 279.08" fill="none" stroke="#000" stroke-width="1.0"/>
<path d="M432.00 268.80H438.00M432.80 266.60L437.20 271.00M437.20 266.60L432.80 271.00" fill="none" stroke="#000" stroke-width="1.0"/>
<path d="M437.70 272.84H443.70M438.50 270.64L442.90 275.04M442.90 270.64L438.50 275.04" fill="none" stroke="#000" stroke-width="1.0"/>
<path d="M443.00 268.80H449.00M443.80 266.60L448.20 271.00M448.20 266.60L443.80 271.00" fill="none" stroke="#000" stroke-width="1.0"/>
<path d="M448.40 264.76H454.40M449.20 262.56L453.60 266.96M453.60 262.56L449.20 266.96" fill="none" stroke="#000" stroke-width="1.0"/>
<path d="M453.70 268.80H459.70M454.50 266.60L458.90 271.00M458.90 266.60L454.50 271.00" fill="none" stroke="#000" stroke-width="1.0"/>
<path d="M459.00 270.82H465.00M459.80 268.62L464.20 273.02M464.20 268.62L459.80 273.02" fill="none" stroke="#000" stroke-width="1.0"/>
<path d="M471.80 278.90H477.80M472.60 276.70L477.00 281.10M477.00 276.70L472.60 281.10" fill="none" stroke="#000" stroke-width="1.0"/>
<path d="M480.10 280.11H486.10M480.90 277.91L485.30 282.31M485.30 277.91L480.90 282.31" fill="none" stroke="#000" stroke-width="1.0"/>
<path d="M490.70 281.73H496.70M491.50 279.53L495.90 283.93M495.90 279.53L491.50 283.93" fill="none" stroke="#000" stroke-width="1.0"/>
<path d="M501.30 280.92H507.30M502.10 278.72L506.50 283.12M506.50 278.72L502.10 283.12" fill="none" stroke="#000" stroke-width="1.0"/>
<path d="M511.90 280.11H517.90M512.70 277.91L517.10 282.31M517.10 277.91L512.70 282.31" fill="none" stroke="#000" stroke-width="1.0"/>
<line x1="307.0" y1="319.60" x2="307.0" y2="451.90" stroke="#000" stroke-width="1.5"/>
<line x1="304.70" y1="441.50" x2="307.0" y2="441.50" stroke="#000" stroke-width="1.2"/>
<text x="304.00" y="444.70" text-anchor="end" font-size="9" >0.5</text>
<line x1="304.70" y1="421.30" x2="307.0" y2="421.30" stroke="#000" stroke-width="1.2"/>
<text x="304.00" y="424.50" text-anchor="end" font-size="9" >1.0</text>
<line x1="304.70" y1="401.10" x2="307.0" y2="401.10" stroke="#000" stroke-width="1.2"/>
<text x="304.00" y="404.30" text-anchor="end" font-size="9" >1.5</text>
<line x1="304.70" y1="380.90" x2="307.0" y2="380.90" stroke="#000" stroke-width="1.2"/>
<text x="304.00" y="384.10" text-anchor="end" font-size="9" >2.0</text>
<line x1="304.70" y1="360.70" x2="307.0" y2="360.70" stroke="#000" stroke-width="1.2"/>
<text x="304.00" y="363.90" text-anchor="end" font-size="9" >2.5</text>
<line x1="304.70" y1="340.50" x2="307.0" y2="340.50" stroke="#000" stroke-width="1.2"/>
<text x="304.00" y="343.70" text-anchor="end" font-size="9" >3.0</text>
<line x1="304.70" y1="320.30" x2="307.0" y2="320.30" stroke="#000" stroke-width="1.2"/>
<text x="304.00" y="323.50" text-anchor="end" font-size="9" >3.5</text>
<line x1="313.50" y1="421.30" x2="513.60" y2="421.30" stroke="#000" stroke-width="1.3" stroke-dasharray="2.2,1.83"/>
<path d="M313.80 421.30L330.30 404.74L337.29 409.58L346.60 382.92L353.59 413.22L362.90 431.40L379.20 425.34L395.50 397.46L411.80 403.93" fill="none" stroke="#000" stroke-width="1.0"/>
<path d="M416.30 409.18L419.30 414.43L422.00 407.56L425.30 412.82L435.00 415.24L440.70 415.24L446.00 414.84L451.40 411.60L456.70 410.39L462.00 421.70L474.80 432.61L483.10 430.19L493.70 432.61L504.30 431.40L514.90 429.78" fill="none" stroke="#000" stroke-width="1.0"/>
<rect x="311.60" y="419.10" width="4.40" height="4.40" fill="none" stroke="#000" stroke-width="1.0"/>
<rect x="328.10" y="402.54" width="4.40" height="4.40" fill="none" stroke="#000" stroke-width="1.0"/>
<rect x="335.09" y="407.38" width="4.40" height="4.40" fill="none" stroke="#000" stroke-width="1.0"/>
<rect x="344.40" y="380.72" width="4.40" height="4.40" fill="none" stroke="#000" stroke-width="1.0"/>
<rect x="351.39" y="411.02" width="4.40" height="4.40" fill="none" stroke="#000" stroke-width="1.0"/>
<rect x="360.70" y="429.20" width="4.40" height="4.40" fill="none" stroke="#000" stroke-width="1.0"/>
<rect x="377.00" y="423.14" width="4.40" height="4.40" fill="none" stroke="#000" stroke-width="1.0"/>
<rect x="393.30" y="395.26" width="4.40" height="4.40" fill="none" stroke="#000" stroke-width="1.0"/>
<rect x="409.60" y="401.73" width="4.40" height="4.40" fill="none" stroke="#000" stroke-width="1.0"/>
<rect x="417.10" y="412.23" width="4.40" height="4.40" fill="none" stroke="#000" stroke-width="1.0"/>
<rect x="419.80" y="405.36" width="4.40" height="4.40" fill="none" stroke="#000" stroke-width="1.0"/>
<rect x="423.10" y="410.62" width="4.40" height="4.40" fill="none" stroke="#000" stroke-width="1.0"/>
<rect x="432.80" y="413.04" width="4.40" height="4.40" fill="none" stroke="#000" stroke-width="1.0"/>
<rect x="438.50" y="413.04" width="4.40" height="4.40" fill="none" stroke="#000" stroke-width="1.0"/>
<rect x="443.80" y="412.64" width="4.40" height="4.40" fill="none" stroke="#000" stroke-width="1.0"/>
<rect x="449.20" y="409.40" width="4.40" height="4.40" fill="none" stroke="#000" stroke-width="1.0"/>
<rect x="454.50" y="408.19" width="4.40" height="4.40" fill="none" stroke="#000" stroke-width="1.0"/>
<rect x="459.80" y="419.50" width="4.40" height="4.40" fill="none" stroke="#000" stroke-width="1.0"/>
<rect x="472.60" y="430.41" width="4.40" height="4.40" fill="none" stroke="#000" stroke-width="1.0"/>
<rect x="480.90" y="427.99" width="4.40" height="4.40" fill="none" stroke="#000" stroke-width="1.0"/>
<rect x="491.50" y="430.41" width="4.40" height="4.40" fill="none" stroke="#000" stroke-width="1.0"/>
<rect x="502.10" y="429.20" width="4.40" height="4.40" fill="none" stroke="#000" stroke-width="1.0"/>
<rect x="512.70" y="427.58" width="4.40" height="4.40" fill="none" stroke="#000" stroke-width="1.0"/>
<path d="M313.80 421.30L330.30 414.43L337.29 420.49L346.60 407.16L353.59 421.70L362.90 437.86L379.20 409.99L395.50 407.16L411.80 426.15" fill="none" stroke="#000" stroke-width="1.0"/>
<path d="M416.30 422.51L419.30 418.88L422.00 419.28L425.30 425.34L435.00 424.94L440.70 423.72L446.00 428.98L451.40 424.53L456.70 424.13L462.00 427.76L474.80 437.86L483.10 429.78L493.70 430.19L504.30 435.84L514.90 434.23" fill="none" stroke="#000" stroke-width="1.0"/>
<circle cx="313.80" cy="421.30" r="2.30" fill="#000"/>
<circle cx="330.30" cy="414.43" r="2.30" fill="#000"/>
<circle cx="337.29" cy="420.49" r="2.30" fill="#000"/>
<circle cx="346.60" cy="407.16" r="2.30" fill="#000"/>
<circle cx="353.59" cy="421.70" r="2.30" fill="#000"/>
<circle cx="362.90" cy="437.86" r="2.30" fill="#000"/>
<circle cx="379.20" cy="409.99" r="2.30" fill="#000"/>
<circle cx="395.50" cy="407.16" r="2.30" fill="#000"/>
<circle cx="411.80" cy="426.15" r="2.30" fill="#000"/>
<circle cx="419.30" cy="418.88" r="2.30" fill="#000"/>
<circle cx="422.00" cy="419.28" r="2.30" fill="#000"/>
<circle cx="425.30" cy="425.34" r="2.30" fill="#000"/>
<circle cx="435.00" cy="424.94" r="2.30" fill="#000"/>
<circle cx="440.70" cy="423.72" r="2.30" fill="#000"/>
<circle cx="446.00" cy="428.98" r="2.30" fill="#000"/>
<circle cx="451.40" cy="424.53" r="2.30" fill="#000"/>
<circle cx="456.70" cy="424.13" r="2.30" fill="#000"/>
<circle cx="462.00" cy="427.76" r="2.30" fill="#000"/>
<circle cx="474.80" cy="437.86" r="2.30" fill="#000"/>
<circle cx="483.10" cy="429.78" r="2.30" fill="#000"/>
<circle cx="493.70" cy="430.19" r="2.30" fill="#000"/>
<circle cx="504.30" cy="435.84" r="2.30" fill="#000"/>
<circle cx="514.90" cy="434.23" r="2.30" fill="#000"/>
<line x1="50.50" y1="458.9" x2="149.00" y2="458.9" stroke="#000" stroke-width="1.5"/>
<line x1="153.80" y1="458.9" x2="252.30" y2="458.9" stroke="#000" stroke-width="1.5"/>
<line x1="50.80" y1="458.9" x2="50.80" y2="461.2" stroke="#000" stroke-width="1.2"/>
<text x="50.80" y="470.3" text-anchor="middle" font-size="9" >PRE</text>
<line x1="67.30" y1="458.9" x2="67.30" y2="461.2" stroke="#000" stroke-width="1.2"/>
<text x="67.30" y="470.3" text-anchor="middle" font-size="9" >0</text>
<line x1="83.60" y1="458.9" x2="83.60" y2="461.2" stroke="#000" stroke-width="1.2"/>
<text x="83.60" y="470.3" text-anchor="middle" font-size="9" >1</text>
<line x1="99.90" y1="458.9" x2="99.90" y2="461.2" stroke="#000" stroke-width="1.2"/>
<text x="99.90" y="470.3" text-anchor="middle" font-size="9" >2</text>
<line x1="116.20" y1="458.9" x2="116.20" y2="461.2" stroke="#000" stroke-width="1.2"/>
<text x="116.20" y="470.3" text-anchor="middle" font-size="9" >3</text>
<line x1="132.50" y1="458.9" x2="132.50" y2="461.2" stroke="#000" stroke-width="1.2"/>
<text x="132.50" y="470.3" text-anchor="middle" font-size="9" >4</text>
<line x1="148.80" y1="458.9" x2="148.80" y2="461.2" stroke="#000" stroke-width="1.2"/>
<text x="148.80" y="470.3" text-anchor="middle" font-size="9" >5</text>
<line x1="148.80" y1="457.09999999999997" x2="148.80" y2="461.2" stroke="#000" stroke-width="1.2"/>
<line x1="154.30" y1="457.09999999999997" x2="154.30" y2="460.4" stroke="#000" stroke-width="1.2"/>
<line x1="167.20" y1="458.9" x2="167.20" y2="461.2" stroke="#000" stroke-width="1.2"/>
<text x="167.20" y="470.3" text-anchor="middle" font-size="9" >10</text>
<line x1="180.45" y1="458.9" x2="180.45" y2="461.2" stroke="#000" stroke-width="1.2"/>
<line x1="193.70" y1="458.9" x2="193.70" y2="461.2" stroke="#000" stroke-width="1.2"/>
<text x="193.70" y="470.3" text-anchor="middle" font-size="9" >20</text>
<line x1="206.95" y1="458.9" x2="206.95" y2="461.2" stroke="#000" stroke-width="1.2"/>
<line x1="220.20" y1="458.9" x2="220.20" y2="461.2" stroke="#000" stroke-width="1.2"/>
<text x="220.20" y="470.3" text-anchor="middle" font-size="9" >30</text>
<line x1="233.45" y1="458.9" x2="233.45" y2="461.2" stroke="#000" stroke-width="1.2"/>
<line x1="246.70" y1="458.9" x2="246.70" y2="461.2" stroke="#000" stroke-width="1.2"/>
<text x="246.70" y="470.3" text-anchor="middle" font-size="9" >40</text>
<text x="124.10" y="484.5" font-size="11" >Weeks p.i.</text>
<line x1="313.50" y1="458.9" x2="412.00" y2="458.9" stroke="#000" stroke-width="1.5"/>
<line x1="416.80" y1="458.9" x2="515.30" y2="458.9" stroke="#000" stroke-width="1.5"/>
<line x1="313.80" y1="458.9" x2="313.80" y2="461.2" stroke="#000" stroke-width="1.2"/>
<text x="313.80" y="470.3" text-anchor="middle" font-size="9" >PRE</text>
<line x1="330.30" y1="458.9" x2="330.30" y2="461.2" stroke="#000" stroke-width="1.2"/>
<text x="330.30" y="470.3" text-anchor="middle" font-size="9" >0</text>
<line x1="346.60" y1="458.9" x2="346.60" y2="461.2" stroke="#000" stroke-width="1.2"/>
<text x="346.60" y="470.3" text-anchor="middle" font-size="9" >1</text>
<line x1="362.90" y1="458.9" x2="362.90" y2="461.2" stroke="#000" stroke-width="1.2"/>
<text x="362.90" y="470.3" text-anchor="middle" font-size="9" >2</text>
<line x1="379.20" y1="458.9" x2="379.20" y2="461.2" stroke="#000" stroke-width="1.2"/>
<text x="379.20" y="470.3" text-anchor="middle" font-size="9" >3</text>
<line x1="395.50" y1="458.9" x2="395.50" y2="461.2" stroke="#000" stroke-width="1.2"/>
<text x="395.50" y="470.3" text-anchor="middle" font-size="9" >4</text>
<line x1="411.80" y1="458.9" x2="411.80" y2="461.2" stroke="#000" stroke-width="1.2"/>
<text x="411.80" y="470.3" text-anchor="middle" font-size="9" >5</text>
<line x1="411.80" y1="457.09999999999997" x2="411.80" y2="461.2" stroke="#000" stroke-width="1.2"/>
<line x1="417.30" y1="457.09999999999997" x2="417.30" y2="460.4" stroke="#000" stroke-width="1.2"/>
<line x1="430.20" y1="458.9" x2="430.20" y2="461.2" stroke="#000" stroke-width="1.2"/>
<text x="430.20" y="470.3" text-anchor="middle" font-size="9" >10</text>
<line x1="443.45" y1="458.9" x2="443.45" y2="461.2" stroke="#000" stroke-width="1.2"/>
<line x1="456.70" y1="458.9" x2="456.70" y2="461.2" stroke="#000" stroke-width="1.2"/>
<text x="456.70" y="470.3" text-anchor="middle" font-size="9" >20</text>
<line x1="469.95" y1="458.9" x2="469.95" y2="461.2" stroke="#000" stroke-width="1.2"/>
<line x1="483.20" y1="458.9" x2="483.20" y2="461.2" stroke="#000" stroke-width="1.2"/>
<text x="483.20" y="470.3" text-anchor="middle" font-size="9" >30</text>
<line x1="496.45" y1="458.9" x2="496.45" y2="461.2" stroke="#000" stroke-width="1.2"/>
<line x1="509.70" y1="458.9" x2="509.70" y2="461.2" stroke="#000" stroke-width="1.2"/>
<text x="509.70" y="470.3" text-anchor="middle" font-size="9" >40</text>
<text x="387.10" y="484.5" font-size="11" >Weeks p.i.</text>
<text x="47.6" y="16.9" font-size="18" >A</text>
<text x="47.6" y="178.8" font-size="18" >B</text>
<text x="48.4" y="330.6" font-size="18" >C</text>
<text x="311.0" y="19.0" font-size="18" >D</text>
<text x="311.8" y="177.6" font-size="18" >E</text>
<text x="312.6" y="331.3" font-size="18" >F</text>
<text x="139.90" y="11.90" font-size="11.1" >Control</text>
<line x1="139.90" y1="21.70" x2="147.10" y2="21.70" stroke="#000" stroke-width="0.9"/>
<circle cx="143.50" cy="21.70" r="2.30" fill="#000"/>
<text x="151.90" y="24.80" font-size="9.4" >235</text>
<line x1="171.30" y1="21.70" x2="178.50" y2="21.70" stroke="#000" stroke-width="0.9"/>
<polygon points="174.90,18.80 175.81,20.75 177.94,21.01 176.37,22.48 176.78,24.59 174.90,23.55 173.02,24.59 173.43,22.48 171.86,21.01 173.99,20.75" fill="#000"/>
<text x="183.50" y="24.80" font-size="9.4" >242</text>
<line x1="202.50" y1="21.70" x2="209.70" y2="21.70" stroke="#000" stroke-width="0.9"/>
<path d="M206.10 18.70L209.10 21.70L206.10 24.70L203.10 21.70Z" fill="#000"/>
<text x="214.30" y="24.80" font-size="9.4" >363</text>
<line x1="139.90" y1="33.80" x2="147.10" y2="33.80" stroke="#000" stroke-width="0.9"/>
<rect x="141.25" y="31.55" width="4.50" height="4.50" fill="#000"/>
<text x="151.90" y="36.90" font-size="9.4" >236</text>
<line x1="171.30" y1="33.80" x2="178.50" y2="33.80" stroke="#000" stroke-width="0.9"/>
<path d="M174.90 30.80L177.90 33.80L174.90 36.80L171.90 33.80Z" fill="#000"/>
<text x="183.50" y="36.90" font-size="9.4" >362</text>
<line x1="202.50" y1="33.80" x2="209.70" y2="33.80" stroke="#000" stroke-width="0.9"/>
<polygon points="206.10,30.80 206.70,32.76 208.70,32.30 207.30,33.80 208.70,35.30 206.70,34.84 206.10,36.80 205.50,34.84 203.50,35.30 204.90,33.80 203.50,32.30 205.50,32.76" fill="#000"/>
<text x="214.30" y="36.90" font-size="9.4" >369</text>
<text x="403.50" y="11.90" font-size="11.1" >Control</text>
<line x1="403.50" y1="20.60" x2="410.70" y2="20.60" stroke="#000" stroke-width="0.9"/>
<circle cx="407.10" cy="20.60" r="2.30" fill="#000"/>
<text x="415.50" y="23.70" font-size="9.4" >235</text>
<line x1="434.90" y1="20.60" x2="442.10" y2="20.60" stroke="#000" stroke-width="0.9"/>
<polygon points="438.50,17.70 439.41,19.65 441.54,19.91 439.97,21.38 440.38,23.49 438.50,22.45 436.62,23.49 437.03,21.38 435.46,19.91 437.59,19.65" fill="#000"/>
<text x="447.10" y="23.70" font-size="9.4" >242</text>
<line x1="466.10" y1="20.60" x2="473.30" y2="20.60" stroke="#000" stroke-width="0.9"/>
<path d="M469.70 17.60L472.70 20.60L469.70 23.60L466.70 20.60Z" fill="#000"/>
<text x="477.90" y="23.70" font-size="9.4" >363</text>
<line x1="403.50" y1="31.90" x2="410.70" y2="31.90" stroke="#000" stroke-width="0.9"/>
<rect x="404.85" y="29.65" width="4.50" height="4.50" fill="#000"/>
<text x="415.50" y="35.00" font-size="9.4" >236</text>
<line x1="434.90" y1="31.90" x2="442.10" y2="31.90" stroke="#000" stroke-width="0.9"/>
<path d="M438.50 28.90L441.50 31.90L438.50 34.90L435.50 31.90Z" fill="#000"/>
<text x="447.10" y="35.00" font-size="9.4" >362</text>
<line x1="466.10" y1="31.90" x2="473.30" y2="31.90" stroke="#000" stroke-width="0.9"/>
<polygon points="469.70,28.90 470.30,30.86 472.30,30.40 470.90,31.90 472.30,33.40 470.30,32.94 469.70,34.90 469.10,32.94 467.10,33.40 468.50,31.90 467.10,30.40 469.10,30.86" fill="#000"/>
<text x="477.90" y="35.00" font-size="9.4" >369</text>
<text x="140.30" y="170.70" font-size="11.2" >CD8 &amp; CD20 depleted</text>
<line x1="140.00" y1="180.90" x2="147.20" y2="180.90" stroke="#000" stroke-width="0.9"/>
<rect x="141.40" y="178.70" width="4.40" height="4.40" fill="none" stroke="#000" stroke-width="1.0"/>
<text x="152.30" y="184.00" font-size="9.4" >361</text>
<line x1="170.70" y1="180.90" x2="177.90" y2="180.90" stroke="#000" stroke-width="0.9"/>
<path d="M174.30 184.20L177.60 178.43L171.00 178.43Z" fill="none" stroke="#000" stroke-width="1.0"/>
<text x="182.60" y="184.00" font-size="9.4" >365</text>
<line x1="202.70" y1="180.90" x2="209.90" y2="180.90" stroke="#000" stroke-width="0.9"/>
<circle cx="206.30" cy="180.90" r="2.70" fill="none" stroke="#000" stroke-width="1.0"/>
<text x="214.90" y="184.00" font-size="9.4" >367</text>
<line x1="140.00" y1="193.60" x2="147.20" y2="193.60" stroke="#000" stroke-width="0.9"/>
<path d="M143.60 190.30L146.90 196.07L140.30 196.07Z" fill="none" stroke="#000" stroke-width="1.0"/>
<text x="152.30" y="196.70" font-size="9.4" >364</text>
<line x1="170.70" y1="193.60" x2="177.90" y2="193.60" stroke="#000" stroke-width="0.9"/>
<path d="M174.30 190.20L177.70 193.60L174.30 197.00L170.90 193.60Z" fill="none" stroke="#000" stroke-width="1.0"/>
<text x="182.60" y="196.70" font-size="9.4" >366</text>
<line x1="202.70" y1="193.60" x2="209.90" y2="193.60" stroke="#000" stroke-width="0.9"/>
<path d="M203.30 193.60H209.30M204.10 191.40L208.50 195.80M208.50 191.40L204.10 195.80" fill="none" stroke="#000" stroke-width="1.0"/>
<text x="214.90" y="196.70" font-size="9.4" >368</text>
<text x="403.00" y="170.50" font-size="11.2" >CD8 &amp; CD20 depleted</text>
<line x1="402.70" y1="179.50" x2="409.90" y2="179.50" stroke="#000" stroke-width="0.9"/>
<rect x="404.10" y="177.30" width="4.40" height="4.40" fill="none" stroke="#000" stroke-width="1.0"/>
<text x="415.00" y="182.60" font-size="9.4" >361</text>
<line x1="433.40" y1="179.50" x2="440.60" y2="179.50" stroke="#000" stroke-width="0.9"/>
<path d="M437.00 182.80L440.30 177.03L433.70 177.03Z" fill="none" stroke="#000" stroke-width="1.0"/>
<text x="445.30" y="182.60" font-size="9.4" >365</text>
<line x1="465.40" y1="179.50" x2="472.60" y2="179.50" stroke="#000" stroke-width="0.9"/>
<circle cx="469.00" cy="179.50" r="2.70" fill="none" stroke="#000" stroke-width="1.0"/>
<text x="477.60" y="182.60" font-size="9.4" >367</text>
<line x1="402.70" y1="190.70" x2="409.90" y2="190.70" stroke="#000" stroke-width="0.9"/>
<path d="M406.30 187.40L409.60 193.18L403.00 193.18Z" fill="none" stroke="#000" stroke-width="1.0"/>
<text x="415.00" y="193.80" font-size="9.4" >364</text>
<line x1="433.40" y1="190.70" x2="440.60" y2="190.70" stroke="#000" stroke-width="0.9"/>
<path d="M437.00 187.30L440.40 190.70L437.00 194.10L433.60 190.70Z" fill="none" stroke="#000" stroke-width="1.0"/>
<text x="445.30" y="193.80" font-size="9.4" >366</text>
<line x1="465.40" y1="190.70" x2="472.60" y2="190.70" stroke="#000" stroke-width="0.9"/>
<path d="M466.00 190.70H472.00M466.80 188.50L471.20 192.90M471.20 188.50L466.80 192.90" fill="none" stroke="#000" stroke-width="1.0"/>
<text x="477.60" y="193.80" font-size="9.4" >368</text>
<text x="141.30" y="324.10" font-size="11.1" >Median</text>
<line x1="140.10" y1="333.70" x2="147.30" y2="333.70" stroke="#000" stroke-width="0.9"/>
<circle cx="143.70" cy="333.70" r="2.30" fill="#000"/>
<text x="152.30" y="336.80" font-size="9.4" >Control</text>
<line x1="140.10" y1="345.60" x2="147.30" y2="345.60" stroke="#000" stroke-width="0.9"/>
<rect x="141.50" y="343.40" width="4.40" height="4.40" fill="none" stroke="#000" stroke-width="1.0"/>
<text x="152.30" y="348.70" font-size="9.4" >CD8 &amp; CD20 depleted</text>
<text x="404.60" y="324.40" font-size="11.1" >Median</text>
<line x1="404.90" y1="331.10" x2="412.10" y2="331.10" stroke="#000" stroke-width="0.9"/>
<circle cx="408.50" cy="331.10" r="2.30" fill="#000"/>
<text x="417.40" y="334.20" font-size="9.4" >Control</text>
<line x1="404.90" y1="342.10" x2="412.10" y2="342.10" stroke="#000" stroke-width="0.9"/>
<rect x="406.30" y="339.90" width="4.40" height="4.40" fill="none" stroke="#000" stroke-width="1.0"/>
<text x="417.40" y="345.20" font-size="9.4" >CD8 &amp; CD20 depleted</text>
<text x="412.1" y="398.5" text-anchor="middle" font-size="8" >*</text>
<text transform="translate(16.2,456.4) rotate(-90)" x="0" font-size="17.24">Fold change in number of memory CD4</text>
<text transform="translate(16.2,456.4) rotate(-90)" x="321.7" y="-8.5" font-size="11.5">+</text>
<text transform="translate(16.2,456.4) rotate(-90)" x="333.6" font-size="17.4">T cells in PBL</text>
<text transform="translate(283.6,450.2) rotate(-90)" x="0" font-size="17.34">Fold change in number of Ki-67</text>
<text transform="translate(283.6,450.2) rotate(-90)" x="259.8" y="-7.8" font-size="11.5">+</text>
<text transform="translate(283.6,450.2) rotate(-90)" x="272.2" font-size="17.6">CD4</text>
<text transform="translate(283.6,450.2) rotate(-90)" x="306.1" y="-8.8" font-size="11.5">+</text>
<text transform="translate(283.6,450.2) rotate(-90)" x="319.3" font-size="17.4">T cells in PBL</text>
</svg>
</body></html>
